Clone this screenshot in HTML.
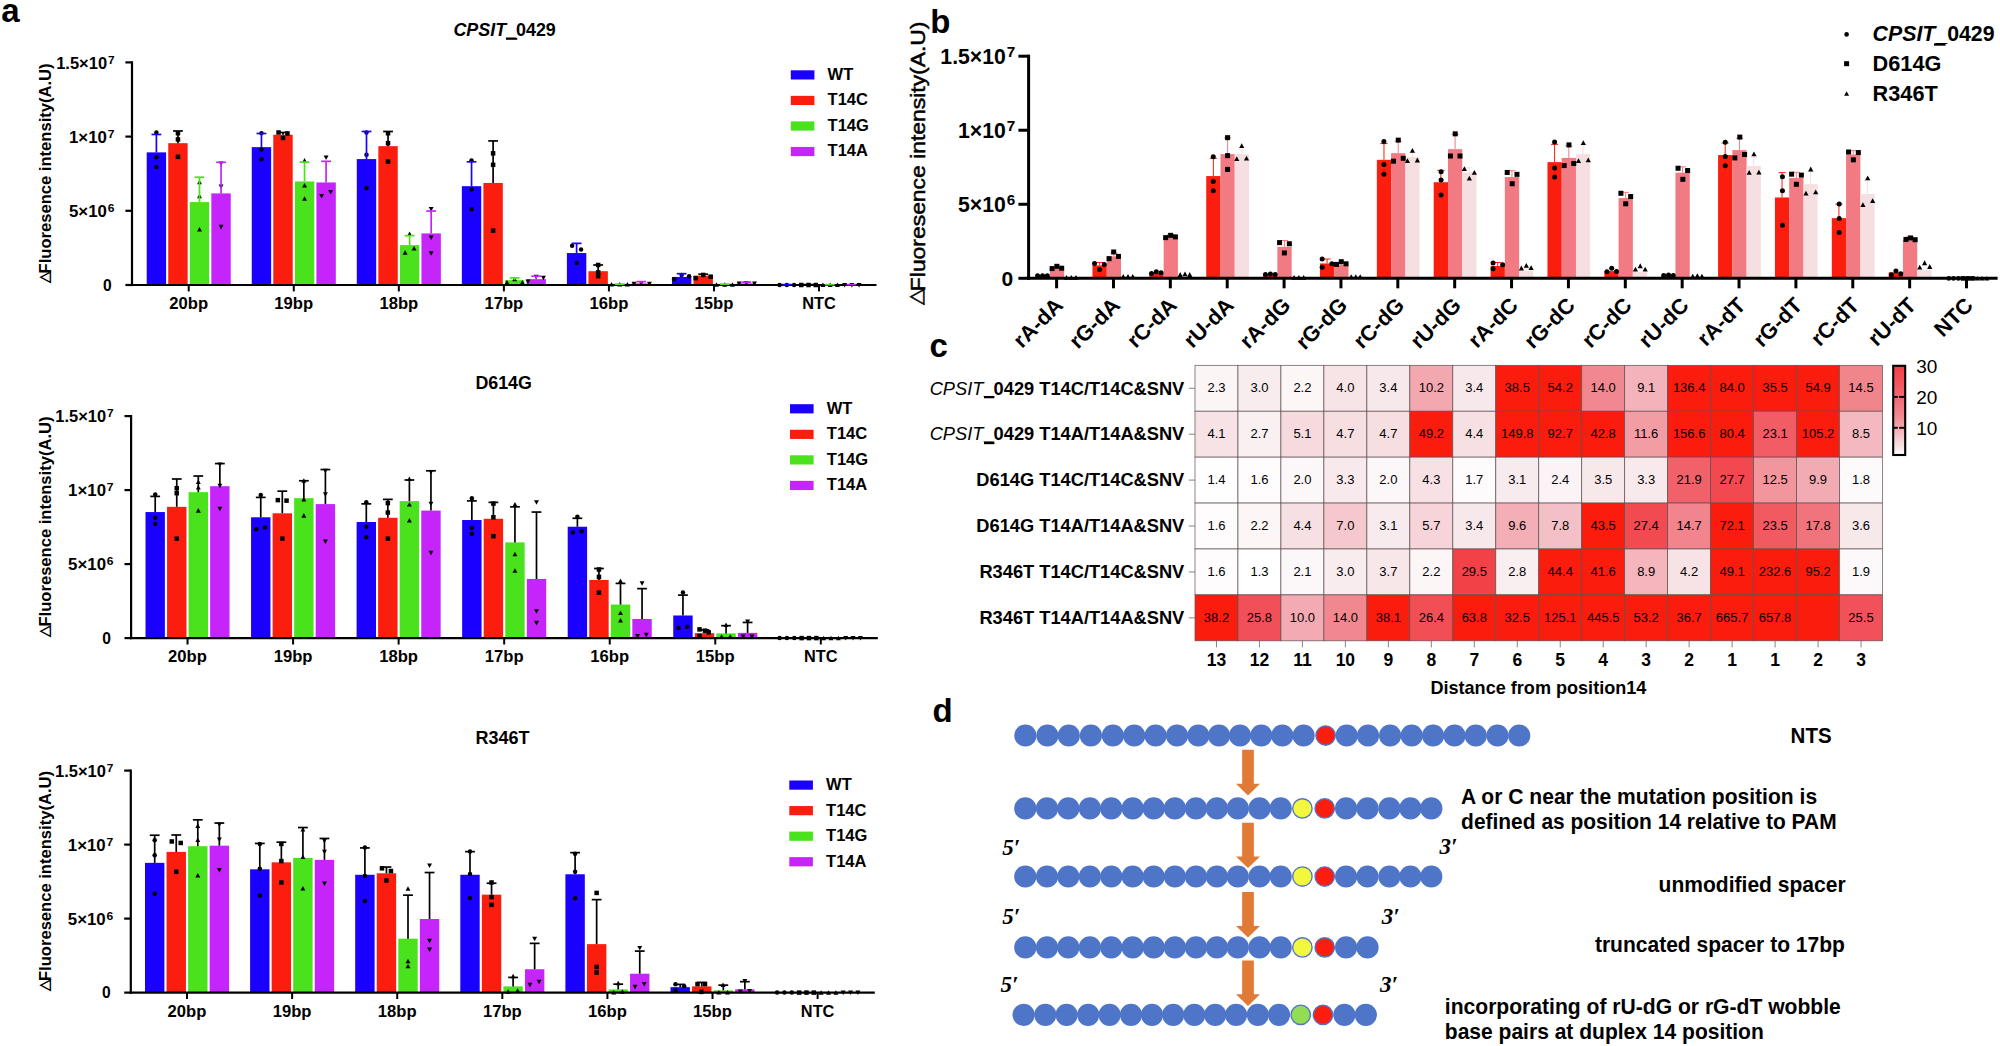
<!DOCTYPE html>
<html lang="en"><head><meta charset="utf-8"><title>Figure</title>
<style>html,body{margin:0;padding:0;background:#fff}svg{display:block}text{font-family:"Liberation Sans",Arial,Helvetica,sans-serif}</style>
</head><body>
<svg width="2000" height="1046" viewBox="0 0 2000 1046">
<rect x="0" y="0" width="2000" height="1046" fill="#fff"/>
<g id="panel-a">
<rect x="146.7" y="152.37" width="19.4" height="132.63" fill="#1a00ff"/>
<rect x="168.25" y="143.17" width="19.4" height="141.83" fill="#fb1d0d"/>
<rect x="189.8" y="202.09" width="19.4" height="82.91" fill="#49e21d"/>
<rect x="211.35" y="193.39" width="19.4" height="91.61" fill="#c524fb"/>
<rect x="251.75" y="147.15" width="19.4" height="137.85" fill="#1a00ff"/>
<rect x="273.3" y="134.72" width="19.4" height="150.28" fill="#fb1d0d"/>
<rect x="294.85" y="181.45" width="19.4" height="103.55" fill="#49e21d"/>
<rect x="316.4" y="182.45" width="19.4" height="102.55" fill="#c524fb"/>
<rect x="356.8" y="159.08" width="19.4" height="125.92" fill="#1a00ff"/>
<rect x="378.35" y="146.15" width="19.4" height="138.85" fill="#fb1d0d"/>
<rect x="399.9" y="245.1" width="19.4" height="39.9" fill="#49e21d"/>
<rect x="421.45" y="233.41" width="19.4" height="51.59" fill="#c524fb"/>
<rect x="461.85" y="186.18" width="19.4" height="98.82" fill="#1a00ff"/>
<rect x="483.4" y="182.95" width="19.4" height="102.05" fill="#fb1d0d"/>
<rect x="504.95" y="280.15" width="19.4" height="4.85" fill="#49e21d"/>
<rect x="526.5" y="279.15" width="19.4" height="5.85" fill="#c524fb"/>
<rect x="566.9" y="253.05" width="19.4" height="31.95" fill="#1a00ff"/>
<rect x="588.45" y="271.2" width="19.4" height="13.8" fill="#fb1d0d"/>
<rect x="610" y="283.88" width="19.4" height="1.12" fill="#49e21d"/>
<rect x="631.55" y="283.38" width="19.4" height="1.62" fill="#c524fb"/>
<rect x="671.95" y="276.92" width="19.4" height="8.08" fill="#1a00ff"/>
<rect x="693.5" y="275.67" width="19.4" height="9.33" fill="#fb1d0d"/>
<rect x="715.05" y="283.88" width="19.4" height="1.12" fill="#49e21d"/>
<rect x="736.6" y="283.38" width="19.4" height="1.62" fill="#c524fb"/>
<rect x="777" y="284.38" width="19.4" height="0.62" fill="#1a00ff"/>
<rect x="798.55" y="284.38" width="19.4" height="0.62" fill="#fb1d0d"/>
<rect x="820.1" y="284.38" width="19.4" height="0.62" fill="#49e21d"/>
<rect x="841.65" y="284.38" width="19.4" height="0.62" fill="#c524fb"/>
<line x1="132" y1="61.3" x2="132" y2="286.1" stroke="#000" stroke-width="2.2"/>
<line x1="130.9" y1="285" x2="876.5" y2="285" stroke="#000" stroke-width="2.2"/>
<circle cx="156.4" cy="132.48" r="2.25" fill="#000"/>
<circle cx="156.4" cy="157.34" r="2.25" fill="#000"/>
<circle cx="156.4" cy="167.04" r="2.25" fill="#000"/>
<rect x="175.7" y="130.98" width="4.5" height="4.5" fill="#000"/>
<rect x="175.7" y="137.19" width="4.5" height="4.5" fill="#000"/>
<rect x="175.7" y="154.59" width="4.5" height="4.5" fill="#000"/>
<path d="M199.5 179.75L201.95 184.28L197.05 184.28Z" fill="#000"/>
<path d="M199.5 193.67L201.95 198.2L197.05 198.2Z" fill="#000"/>
<path d="M199.5 226.98L201.95 231.52L197.05 231.52Z" fill="#000"/>
<path d="M221.05 166.01L223.5 161.47L218.6 161.47Z" fill="#000"/>
<path d="M221.05 189.12L223.5 184.59L218.6 184.59Z" fill="#000"/>
<path d="M221.05 229.4L223.5 224.87L218.6 224.87Z" fill="#000"/>
<circle cx="261.45" cy="133.23" r="2.25" fill="#000"/>
<circle cx="261.45" cy="149.38" r="2.25" fill="#000"/>
<circle cx="261.45" cy="159.33" r="2.25" fill="#000"/>
<rect x="276.28" y="130.23" width="4.5" height="4.5" fill="#000"/>
<rect x="285.22" y="131.22" width="4.5" height="4.5" fill="#000"/>
<rect x="280.75" y="135.7" width="4.5" height="4.5" fill="#000"/>
<path d="M304.55 158.12L307 162.65L302.1 162.65Z" fill="#000"/>
<path d="M304.55 182.98L307 187.51L302.1 187.51Z" fill="#000"/>
<path d="M304.55 196.16L307 200.69L302.1 200.69Z" fill="#000"/>
<path d="M326.1 160.04L328.55 155.51L323.65 155.51Z" fill="#000"/>
<path d="M321.63 198.57L324.08 194.04L319.18 194.04Z" fill="#000"/>
<path d="M330.57 194.59L333.02 190.06L328.12 190.06Z" fill="#000"/>
<circle cx="366.5" cy="132.48" r="2.25" fill="#000"/>
<circle cx="366.5" cy="154.85" r="2.25" fill="#000"/>
<circle cx="366.5" cy="188.17" r="2.25" fill="#000"/>
<rect x="385.8" y="130.98" width="4.5" height="4.5" fill="#000"/>
<rect x="385.8" y="140.92" width="4.5" height="4.5" fill="#000"/>
<rect x="385.8" y="159.32" width="4.5" height="4.5" fill="#000"/>
<path d="M409.6 231.46L412.05 235.99L407.15 235.99Z" fill="#000"/>
<path d="M405.13 250.1L407.58 254.64L402.68 254.64Z" fill="#000"/>
<path d="M414.07 245.88L416.52 250.41L411.62 250.41Z" fill="#000"/>
<path d="M431.15 211.5L433.6 206.97L428.7 206.97Z" fill="#000"/>
<path d="M431.15 240.09L433.6 235.56L428.7 235.56Z" fill="#000"/>
<path d="M431.15 255.75L433.6 251.22L428.7 251.22Z" fill="#000"/>
<circle cx="471.55" cy="160.57" r="2.25" fill="#000"/>
<circle cx="471.55" cy="189.41" r="2.25" fill="#000"/>
<circle cx="471.55" cy="209.3" r="2.25" fill="#000"/>
<rect x="490.85" y="151.11" width="4.5" height="4.5" fill="#000"/>
<rect x="490.85" y="162.55" width="4.5" height="4.5" fill="#000"/>
<rect x="490.85" y="228.43" width="4.5" height="4.5" fill="#000"/>
<path d="M506.94 279.94L509.39 284.47L504.49 284.47Z" fill="#000"/>
<path d="M514.65 276.7L517.1 281.24L512.2 281.24Z" fill="#000"/>
<path d="M522.36 279.94L524.81 284.47L519.91 284.47Z" fill="#000"/>
<path d="M528 284.09L530.45 279.56L525.55 279.56Z" fill="#000"/>
<path d="M536.2 279.37L538.65 274.83L533.75 274.83Z" fill="#000"/>
<path d="M543.41 280.36L545.86 275.83L540.96 275.83Z" fill="#000"/>
<circle cx="572.13" cy="245.84" r="2.25" fill="#000"/>
<circle cx="581.07" cy="249.57" r="2.25" fill="#000"/>
<circle cx="576.6" cy="263" r="2.25" fill="#000"/>
<rect x="595.9" y="262.73" width="4.5" height="4.5" fill="#000"/>
<rect x="595.9" y="270.19" width="4.5" height="4.5" fill="#000"/>
<rect x="595.9" y="273.92" width="4.5" height="4.5" fill="#000"/>
<path d="M611.5 281.93L613.95 286.46L609.05 286.46Z" fill="#000"/>
<path d="M619.7 281.93L622.15 286.46L617.25 286.46Z" fill="#000"/>
<path d="M627.41 281.93L629.86 286.46L624.96 286.46Z" fill="#000"/>
<path d="M634.04 286.33L636.49 281.8L631.59 281.8Z" fill="#000"/>
<path d="M641.25 285.58L643.7 281.05L638.8 281.05Z" fill="#000"/>
<path d="M649.45 286.33L651.9 281.8L647 281.8Z" fill="#000"/>
<circle cx="674.19" cy="279.15" r="2.25" fill="#000"/>
<circle cx="681.65" cy="274.93" r="2.25" fill="#000"/>
<circle cx="689.11" cy="276.17" r="2.25" fill="#000"/>
<rect x="693.49" y="275.91" width="4.5" height="4.5" fill="#000"/>
<rect x="700.95" y="272.68" width="4.5" height="4.5" fill="#000"/>
<rect x="708.41" y="274.42" width="4.5" height="4.5" fill="#000"/>
<path d="M716.55 282.17L719 286.71L714.1 286.71Z" fill="#000"/>
<path d="M724.75 282.17L727.2 286.71L722.3 286.71Z" fill="#000"/>
<path d="M732.46 282.17L734.91 286.71L730.01 286.71Z" fill="#000"/>
<path d="M739.09 286.08L741.54 281.55L736.64 281.55Z" fill="#000"/>
<path d="M746.3 285.58L748.75 281.05L743.85 281.05Z" fill="#000"/>
<path d="M754.5 286.08L756.95 281.55L752.05 281.55Z" fill="#000"/>
<circle cx="779.6" cy="285" r="2.25" fill="#000"/>
<circle cx="786.83" cy="285" r="2.25" fill="#000"/>
<circle cx="794.05" cy="285" r="2.25" fill="#000"/>
<rect x="799.03" y="282.75" width="4.5" height="4.5" fill="#000"/>
<rect x="806.26" y="282.75" width="4.5" height="4.5" fill="#000"/>
<rect x="813.49" y="282.75" width="4.5" height="4.5" fill="#000"/>
<path d="M822.96 282.55L825.41 287.08L820.51 287.08Z" fill="#000"/>
<path d="M830.19 282.55L832.64 287.08L827.74 287.08Z" fill="#000"/>
<path d="M837.42 282.55L839.87 287.08L834.97 287.08Z" fill="#000"/>
<path d="M844.65 287.45L847.1 282.92L842.2 282.92Z" fill="#000"/>
<path d="M851.87 287.45L854.32 282.92L849.42 282.92Z" fill="#000"/>
<path d="M859.1 287.45L861.55 282.92L856.65 282.92Z" fill="#000"/>
<line x1="156.4" y1="134.47" x2="156.4" y2="152.37" stroke="#1a00ff" stroke-width="1.7"/>
<line x1="151.5" y1="134.47" x2="161.3" y2="134.47" stroke="#1a00ff" stroke-width="1.7"/>
<line x1="177.95" y1="130.99" x2="177.95" y2="143.17" stroke="#000" stroke-width="1.7"/>
<line x1="173.05" y1="130.99" x2="182.85" y2="130.99" stroke="#000" stroke-width="1.7"/>
<line x1="199.5" y1="177.23" x2="199.5" y2="202.09" stroke="#49e21d" stroke-width="1.7"/>
<line x1="194.6" y1="177.23" x2="204.4" y2="177.23" stroke="#49e21d" stroke-width="1.7"/>
<line x1="221.05" y1="162.31" x2="221.05" y2="193.39" stroke="#c524fb" stroke-width="1.7"/>
<line x1="216.15" y1="162.31" x2="225.95" y2="162.31" stroke="#c524fb" stroke-width="1.7"/>
<line x1="261.45" y1="133.47" x2="261.45" y2="147.15" stroke="#1a00ff" stroke-width="1.7"/>
<line x1="256.55" y1="133.47" x2="266.35" y2="133.47" stroke="#1a00ff" stroke-width="1.7"/>
<line x1="283" y1="132.48" x2="283" y2="134.72" stroke="#000" stroke-width="1.7"/>
<line x1="278.1" y1="132.48" x2="287.9" y2="132.48" stroke="#000" stroke-width="1.7"/>
<line x1="304.55" y1="162.06" x2="304.55" y2="181.45" stroke="#49e21d" stroke-width="1.7"/>
<line x1="299.65" y1="162.06" x2="309.45" y2="162.06" stroke="#49e21d" stroke-width="1.7"/>
<line x1="326.1" y1="161.32" x2="326.1" y2="182.45" stroke="#c524fb" stroke-width="1.7"/>
<line x1="321.2" y1="161.32" x2="331" y2="161.32" stroke="#c524fb" stroke-width="1.7"/>
<line x1="366.5" y1="131.49" x2="366.5" y2="159.08" stroke="#1a00ff" stroke-width="1.7"/>
<line x1="361.6" y1="131.49" x2="371.4" y2="131.49" stroke="#1a00ff" stroke-width="1.7"/>
<line x1="388.05" y1="131.49" x2="388.05" y2="146.15" stroke="#000" stroke-width="1.7"/>
<line x1="383.15" y1="131.49" x2="392.95" y2="131.49" stroke="#000" stroke-width="1.7"/>
<line x1="409.6" y1="235.65" x2="409.6" y2="245.1" stroke="#49e21d" stroke-width="1.7"/>
<line x1="404.7" y1="235.65" x2="414.5" y2="235.65" stroke="#49e21d" stroke-width="1.7"/>
<line x1="431.15" y1="211.04" x2="431.15" y2="233.41" stroke="#c524fb" stroke-width="1.7"/>
<line x1="426.25" y1="211.04" x2="436.05" y2="211.04" stroke="#c524fb" stroke-width="1.7"/>
<line x1="471.55" y1="161.81" x2="471.55" y2="186.18" stroke="#1a00ff" stroke-width="1.7"/>
<line x1="466.65" y1="161.81" x2="476.45" y2="161.81" stroke="#1a00ff" stroke-width="1.7"/>
<line x1="493.1" y1="140.93" x2="493.1" y2="182.95" stroke="#000" stroke-width="1.7"/>
<line x1="488.2" y1="140.93" x2="498" y2="140.93" stroke="#000" stroke-width="1.7"/>
<line x1="514.65" y1="277.91" x2="514.65" y2="280.15" stroke="#49e21d" stroke-width="1.7"/>
<line x1="509.75" y1="277.91" x2="519.55" y2="277.91" stroke="#49e21d" stroke-width="1.7"/>
<line x1="536.2" y1="276.17" x2="536.2" y2="279.15" stroke="#c524fb" stroke-width="1.7"/>
<line x1="531.3" y1="276.17" x2="541.1" y2="276.17" stroke="#c524fb" stroke-width="1.7"/>
<line x1="576.6" y1="243.36" x2="576.6" y2="253.05" stroke="#1a00ff" stroke-width="1.7"/>
<line x1="571.7" y1="243.36" x2="581.5" y2="243.36" stroke="#1a00ff" stroke-width="1.7"/>
<line x1="598.15" y1="264.98" x2="598.15" y2="271.2" stroke="#000" stroke-width="1.7"/>
<line x1="593.25" y1="264.98" x2="603.05" y2="264.98" stroke="#000" stroke-width="1.7"/>
<line x1="614.8" y1="284.13" x2="624.6" y2="284.13" stroke="#49e21d" stroke-width="1.7"/>
<line x1="641.25" y1="281.64" x2="641.25" y2="283.38" stroke="#c524fb" stroke-width="1.7"/>
<line x1="636.35" y1="281.64" x2="646.15" y2="281.64" stroke="#c524fb" stroke-width="1.7"/>
<line x1="681.65" y1="273.69" x2="681.65" y2="276.92" stroke="#1a00ff" stroke-width="1.7"/>
<line x1="676.75" y1="273.69" x2="686.55" y2="273.69" stroke="#1a00ff" stroke-width="1.7"/>
<line x1="703.2" y1="274.18" x2="703.2" y2="275.67" stroke="#000" stroke-width="1.7"/>
<line x1="698.3" y1="274.18" x2="708.1" y2="274.18" stroke="#000" stroke-width="1.7"/>
<line x1="719.85" y1="284.13" x2="729.65" y2="284.13" stroke="#49e21d" stroke-width="1.7"/>
<line x1="746.3" y1="282.14" x2="746.3" y2="283.38" stroke="#c524fb" stroke-width="1.7"/>
<line x1="741.4" y1="282.14" x2="751.2" y2="282.14" stroke="#c524fb" stroke-width="1.7"/>
<line x1="781.8" y1="284.62" x2="791.6" y2="284.62" stroke="#1a00ff" stroke-width="1.7"/>
<line x1="803.35" y1="284.62" x2="813.15" y2="284.62" stroke="#000" stroke-width="1.7"/>
<line x1="824.9" y1="284.62" x2="834.7" y2="284.62" stroke="#49e21d" stroke-width="1.7"/>
<line x1="846.45" y1="284.62" x2="856.25" y2="284.62" stroke="#c524fb" stroke-width="1.7"/>
<line x1="125.4" y1="285" x2="132" y2="285" stroke="#000" stroke-width="2.2"/>
<text x="111.8" y="290.6" font-size="15.6" font-weight="bold" text-anchor="end">0</text>
<line x1="125.4" y1="210.8" x2="132" y2="210.8" stroke="#000" stroke-width="2.2"/>
<text x="114.5" y="216.9" font-size="15.6" font-weight="bold" text-anchor="end" textLength="45.5" lengthAdjust="spacingAndGlyphs">5×10<tspan font-size="11.23" dy="-4.84" dx="0.78">6</tspan></text>
<line x1="125.4" y1="136.6" x2="132" y2="136.6" stroke="#000" stroke-width="2.2"/>
<text x="114.5" y="142.7" font-size="15.6" font-weight="bold" text-anchor="end" textLength="45.5" lengthAdjust="spacingAndGlyphs">1×10<tspan font-size="11.23" dy="-4.84" dx="0.78">7</tspan></text>
<line x1="125.4" y1="62.4" x2="132" y2="62.4" stroke="#000" stroke-width="2.2"/>
<text x="114.5" y="68.5" font-size="15.6" font-weight="bold" text-anchor="end" textLength="58.3" lengthAdjust="spacingAndGlyphs">1.5×10<tspan font-size="11.23" dy="-4.84" dx="0.78">7</tspan></text>
<line x1="188.72" y1="285" x2="188.72" y2="291.4" stroke="#000" stroke-width="2"/>
<text x="188.72" y="308.9" font-size="15.6" font-weight="bold" text-anchor="middle" textLength="38.8" lengthAdjust="spacingAndGlyphs">20bp</text>
<line x1="293.78" y1="285" x2="293.78" y2="291.4" stroke="#000" stroke-width="2"/>
<text x="293.78" y="308.9" font-size="15.6" font-weight="bold" text-anchor="middle" textLength="38.8" lengthAdjust="spacingAndGlyphs">19bp</text>
<line x1="398.82" y1="285" x2="398.82" y2="291.4" stroke="#000" stroke-width="2"/>
<text x="398.82" y="308.9" font-size="15.6" font-weight="bold" text-anchor="middle" textLength="38.8" lengthAdjust="spacingAndGlyphs">18bp</text>
<line x1="503.88" y1="285" x2="503.88" y2="291.4" stroke="#000" stroke-width="2"/>
<text x="503.88" y="308.9" font-size="15.6" font-weight="bold" text-anchor="middle" textLength="38.8" lengthAdjust="spacingAndGlyphs">17bp</text>
<line x1="608.92" y1="285" x2="608.92" y2="291.4" stroke="#000" stroke-width="2"/>
<text x="608.92" y="308.9" font-size="15.6" font-weight="bold" text-anchor="middle" textLength="38.8" lengthAdjust="spacingAndGlyphs">16bp</text>
<line x1="713.98" y1="285" x2="713.98" y2="291.4" stroke="#000" stroke-width="2"/>
<text x="713.98" y="308.9" font-size="15.6" font-weight="bold" text-anchor="middle" textLength="38.8" lengthAdjust="spacingAndGlyphs">15bp</text>
<line x1="819.02" y1="285" x2="819.02" y2="291.4" stroke="#000" stroke-width="2"/>
<text x="819.02" y="308.9" font-size="15.6" font-weight="bold" text-anchor="middle" textLength="33.5" lengthAdjust="spacingAndGlyphs">NTC</text>
<text x="51.3" y="283.4" font-size="15.6" font-weight="bold" textLength="220" lengthAdjust="spacingAndGlyphs" transform="rotate(-90 51.3 283.4)"><tspan font-size="14.4" dy="-2.4">△</tspan><tspan dy="2.4" dx="-1.6">Fluoresence intensity(A.U)</tspan></text>
<rect x="790.8" y="70.3" width="23.6" height="9.2" fill="#1a00ff"/>
<text x="827.6" y="79.8" font-size="16.5" font-weight="bold">WT</text>
<rect x="790.8" y="95.85" width="23.6" height="9.2" fill="#fb1d0d"/>
<text x="827.6" y="105.35" font-size="16.5" font-weight="bold">T14C</text>
<rect x="790.8" y="121.4" width="23.6" height="9.2" fill="#49e21d"/>
<text x="827.6" y="130.9" font-size="16.5" font-weight="bold">T14G</text>
<rect x="790.8" y="146.95" width="23.6" height="9.2" fill="#c524fb"/>
<text x="827.6" y="156.45" font-size="16.5" font-weight="bold">T14A</text>
<text x="453.4" y="35.6" font-size="17.9" font-weight="bold" textLength="102.4" lengthAdjust="spacingAndGlyphs"><tspan font-style="italic">CPSIT</tspan>_0429</text>
<rect x="506" y="38" width="11.2" height="1.8" fill="#000"/>
<rect x="145.5" y="512.06" width="19.4" height="126.04" fill="#1a00ff"/>
<rect x="167.05" y="506.84" width="19.4" height="131.26" fill="#fb1d0d"/>
<rect x="188.6" y="492.18" width="19.4" height="145.92" fill="#49e21d"/>
<rect x="210.15" y="486.21" width="19.4" height="151.89" fill="#c524fb"/>
<rect x="251.05" y="517.28" width="19.4" height="120.82" fill="#1a00ff"/>
<rect x="272.6" y="513.31" width="19.4" height="124.79" fill="#fb1d0d"/>
<rect x="294.15" y="498.14" width="19.4" height="139.96" fill="#49e21d"/>
<rect x="315.7" y="504.11" width="19.4" height="133.99" fill="#c524fb"/>
<rect x="356.6" y="522.01" width="19.4" height="116.09" fill="#1a00ff"/>
<rect x="378.15" y="517.78" width="19.4" height="120.32" fill="#fb1d0d"/>
<rect x="399.7" y="501.12" width="19.4" height="136.98" fill="#49e21d"/>
<rect x="421.25" y="510.57" width="19.4" height="127.53" fill="#c524fb"/>
<rect x="462.15" y="520.02" width="19.4" height="118.08" fill="#1a00ff"/>
<rect x="483.7" y="518.78" width="19.4" height="119.32" fill="#fb1d0d"/>
<rect x="505.25" y="542.39" width="19.4" height="95.71" fill="#49e21d"/>
<rect x="526.8" y="578.94" width="19.4" height="59.16" fill="#c524fb"/>
<rect x="567.7" y="526.73" width="19.4" height="111.37" fill="#1a00ff"/>
<rect x="589.25" y="579.93" width="19.4" height="58.17" fill="#fb1d0d"/>
<rect x="610.8" y="604.54" width="19.4" height="33.56" fill="#49e21d"/>
<rect x="632.35" y="618.96" width="19.4" height="19.14" fill="#c524fb"/>
<rect x="673.25" y="615.48" width="19.4" height="22.62" fill="#1a00ff"/>
<rect x="694.8" y="633.13" width="19.4" height="4.97" fill="#fb1d0d"/>
<rect x="716.35" y="633.38" width="19.4" height="4.72" fill="#49e21d"/>
<rect x="737.9" y="632.88" width="19.4" height="5.22" fill="#c524fb"/>
<rect x="778.8" y="637.61" width="19.4" height="0.49" fill="#1a00ff"/>
<rect x="800.35" y="637.61" width="19.4" height="0.49" fill="#fb1d0d"/>
<rect x="821.9" y="637.61" width="19.4" height="0.49" fill="#49e21d"/>
<rect x="843.45" y="637.61" width="19.4" height="0.49" fill="#c524fb"/>
<line x1="131.1" y1="415" x2="131.1" y2="639.2" stroke="#000" stroke-width="2.2"/>
<line x1="130" y1="638.1" x2="877.8" y2="638.1" stroke="#000" stroke-width="2.2"/>
<circle cx="155.2" cy="494.41" r="2.25" fill="#000"/>
<circle cx="155.2" cy="517.78" r="2.25" fill="#000"/>
<circle cx="155.2" cy="523.75" r="2.25" fill="#000"/>
<rect x="174.5" y="485.95" width="4.5" height="4.5" fill="#000"/>
<rect x="174.5" y="490.92" width="4.5" height="4.5" fill="#000"/>
<rect x="174.5" y="536.41" width="4.5" height="4.5" fill="#000"/>
<path d="M198.3 479.53L200.75 484.07L195.85 484.07Z" fill="#000"/>
<path d="M198.3 485L200.75 489.53L195.85 489.53Z" fill="#000"/>
<path d="M198.3 508.12L200.75 512.65L195.85 512.65Z" fill="#000"/>
<path d="M219.85 467.03L222.3 462.5L217.4 462.5Z" fill="#000"/>
<path d="M219.85 488.16L222.3 483.63L217.4 483.63Z" fill="#000"/>
<path d="M219.85 511.28L222.3 506.75L217.4 506.75Z" fill="#000"/>
<circle cx="260.75" cy="494.91" r="2.25" fill="#000"/>
<circle cx="256.28" cy="529.22" r="2.25" fill="#000"/>
<circle cx="264.98" cy="527.48" r="2.25" fill="#000"/>
<rect x="275.58" y="497.88" width="4.5" height="4.5" fill="#000"/>
<rect x="284.28" y="498.38" width="4.5" height="4.5" fill="#000"/>
<rect x="280.05" y="536.41" width="4.5" height="4.5" fill="#000"/>
<path d="M303.85 478.29L306.3 482.82L301.4 482.82Z" fill="#000"/>
<path d="M303.85 496.93L306.3 501.47L301.4 501.47Z" fill="#000"/>
<path d="M303.85 513.09L306.3 517.63L301.4 517.63Z" fill="#000"/>
<path d="M325.4 473.25L327.85 468.71L322.95 468.71Z" fill="#000"/>
<path d="M325.4 496.86L327.85 492.33L322.95 492.33Z" fill="#000"/>
<path d="M325.4 544.1L327.85 539.56L322.95 539.56Z" fill="#000"/>
<circle cx="366.3" cy="502.37" r="2.25" fill="#000"/>
<circle cx="366.3" cy="526.48" r="2.25" fill="#000"/>
<circle cx="366.3" cy="537.17" r="2.25" fill="#000"/>
<rect x="385.6" y="500.86" width="4.5" height="4.5" fill="#000"/>
<rect x="385.6" y="510.31" width="4.5" height="4.5" fill="#000"/>
<rect x="385.6" y="536.41" width="4.5" height="4.5" fill="#000"/>
<path d="M409.4 476.55L411.85 481.08L406.95 481.08Z" fill="#000"/>
<path d="M409.4 501.91L411.85 506.44L406.95 506.44Z" fill="#000"/>
<path d="M409.4 518.07L411.85 522.6L406.95 522.6Z" fill="#000"/>
<path d="M430.95 474.49L433.4 469.96L428.5 469.96Z" fill="#000"/>
<path d="M430.95 506.31L433.4 501.78L428.5 501.78Z" fill="#000"/>
<path d="M430.95 555.28L433.4 550.75L428.5 550.75Z" fill="#000"/>
<circle cx="471.85" cy="498.14" r="2.25" fill="#000"/>
<circle cx="471.85" cy="527.97" r="2.25" fill="#000"/>
<circle cx="471.85" cy="533.69" r="2.25" fill="#000"/>
<rect x="491.15" y="501.36" width="4.5" height="4.5" fill="#000"/>
<rect x="491.15" y="515.03" width="4.5" height="4.5" fill="#000"/>
<rect x="491.15" y="533.93" width="4.5" height="4.5" fill="#000"/>
<path d="M514.95 501.91L517.4 506.44L512.5 506.44Z" fill="#000"/>
<path d="M514.95 551.63L517.4 556.16L512.5 556.16Z" fill="#000"/>
<path d="M514.95 568.28L517.4 572.82L512.5 572.82Z" fill="#000"/>
<path d="M536.5 504.82L538.95 500.29L534.05 500.29Z" fill="#000"/>
<path d="M536.5 613.71L538.95 609.17L534.05 609.17Z" fill="#000"/>
<path d="M536.5 625.39L538.95 620.86L534.05 620.86Z" fill="#000"/>
<circle cx="577.4" cy="516.79" r="2.25" fill="#000"/>
<circle cx="572.93" cy="532.45" r="2.25" fill="#000"/>
<circle cx="581.63" cy="531.21" r="2.25" fill="#000"/>
<rect x="596.7" y="567.24" width="4.5" height="4.5" fill="#000"/>
<rect x="596.7" y="574.7" width="4.5" height="4.5" fill="#000"/>
<rect x="596.7" y="590.36" width="4.5" height="4.5" fill="#000"/>
<path d="M620.5 578.48L622.95 583.01L618.05 583.01Z" fill="#000"/>
<path d="M620.5 610.55L622.95 615.08L618.05 615.08Z" fill="#000"/>
<path d="M620.5 618L622.95 622.54L618.05 622.54Z" fill="#000"/>
<path d="M642.05 585.86L644.5 581.33L639.6 581.33Z" fill="#000"/>
<path d="M637.58 638.57L640.03 634.03L635.13 634.03Z" fill="#000"/>
<path d="M646.28 637.32L648.73 632.79L643.83 632.79Z" fill="#000"/>
<circle cx="682.95" cy="592.61" r="2.25" fill="#000"/>
<circle cx="678.48" cy="627.91" r="2.25" fill="#000"/>
<circle cx="687.18" cy="626.67" r="2.25" fill="#000"/>
<rect x="697.28" y="627.15" width="4.5" height="4.5" fill="#000"/>
<rect x="702.75" y="628.4" width="4.5" height="4.5" fill="#000"/>
<rect x="706.48" y="630.14" width="4.5" height="4.5" fill="#000"/>
<rect x="697.28" y="633.87" width="4.5" height="4.5" fill="#000"/>
<path d="M726.05 622.48L728.5 627.01L723.6 627.01Z" fill="#000"/>
<path d="M721.58 634.16L724.03 638.7L719.13 638.7Z" fill="#000"/>
<path d="M730.28 634.16L732.73 638.7L727.83 638.7Z" fill="#000"/>
<path d="M747.6 624.15L750.05 619.61L745.15 619.61Z" fill="#000"/>
<path d="M743.13 639.06L745.58 634.53L740.68 634.53Z" fill="#000"/>
<path d="M751.83 639.06L754.28 634.53L749.38 634.53Z" fill="#000"/>
<circle cx="779.6" cy="638.1" r="2.25" fill="#000"/>
<circle cx="786.95" cy="638.1" r="2.25" fill="#000"/>
<circle cx="794.29" cy="638.1" r="2.25" fill="#000"/>
<rect x="799.39" y="635.85" width="4.5" height="4.5" fill="#000"/>
<rect x="806.73" y="635.85" width="4.5" height="4.5" fill="#000"/>
<rect x="814.08" y="635.85" width="4.5" height="4.5" fill="#000"/>
<path d="M823.67 635.65L826.12 640.18L821.22 640.18Z" fill="#000"/>
<path d="M831.02 635.65L833.47 640.18L828.57 640.18Z" fill="#000"/>
<path d="M838.36 635.65L840.81 640.18L835.91 640.18Z" fill="#000"/>
<path d="M845.71 640.55L848.16 636.02L843.26 636.02Z" fill="#000"/>
<path d="M853.05 640.55L855.5 636.02L850.6 636.02Z" fill="#000"/>
<path d="M860.4 640.55L862.85 636.02L857.95 636.02Z" fill="#000"/>
<line x1="155.2" y1="496.4" x2="155.2" y2="512.06" stroke="#000" stroke-width="1.7"/>
<line x1="150.3" y1="496.4" x2="160.1" y2="496.4" stroke="#000" stroke-width="1.7"/>
<line x1="176.75" y1="479" x2="176.75" y2="506.84" stroke="#000" stroke-width="1.7"/>
<line x1="171.85" y1="479" x2="181.65" y2="479" stroke="#000" stroke-width="1.7"/>
<line x1="198.3" y1="476.02" x2="198.3" y2="492.18" stroke="#000" stroke-width="1.7"/>
<line x1="193.4" y1="476.02" x2="203.2" y2="476.02" stroke="#000" stroke-width="1.7"/>
<line x1="219.85" y1="463.59" x2="219.85" y2="486.21" stroke="#000" stroke-width="1.7"/>
<line x1="214.95" y1="463.59" x2="224.75" y2="463.59" stroke="#000" stroke-width="1.7"/>
<line x1="260.75" y1="497.4" x2="260.75" y2="517.28" stroke="#000" stroke-width="1.7"/>
<line x1="255.85" y1="497.4" x2="265.65" y2="497.4" stroke="#000" stroke-width="1.7"/>
<line x1="282.3" y1="491.18" x2="282.3" y2="513.31" stroke="#000" stroke-width="1.7"/>
<line x1="277.4" y1="491.18" x2="287.2" y2="491.18" stroke="#000" stroke-width="1.7"/>
<line x1="303.85" y1="480.74" x2="303.85" y2="498.14" stroke="#000" stroke-width="1.7"/>
<line x1="298.95" y1="480.74" x2="308.75" y2="480.74" stroke="#000" stroke-width="1.7"/>
<line x1="325.4" y1="469.55" x2="325.4" y2="504.11" stroke="#000" stroke-width="1.7"/>
<line x1="320.5" y1="469.55" x2="330.3" y2="469.55" stroke="#000" stroke-width="1.7"/>
<line x1="366.3" y1="503.86" x2="366.3" y2="522.01" stroke="#000" stroke-width="1.7"/>
<line x1="361.4" y1="503.86" x2="371.2" y2="503.86" stroke="#000" stroke-width="1.7"/>
<line x1="387.85" y1="499.38" x2="387.85" y2="517.78" stroke="#000" stroke-width="1.7"/>
<line x1="382.95" y1="499.38" x2="392.75" y2="499.38" stroke="#000" stroke-width="1.7"/>
<line x1="409.4" y1="479.99" x2="409.4" y2="501.12" stroke="#000" stroke-width="1.7"/>
<line x1="404.5" y1="479.99" x2="414.3" y2="479.99" stroke="#000" stroke-width="1.7"/>
<line x1="430.95" y1="470.8" x2="430.95" y2="510.57" stroke="#000" stroke-width="1.7"/>
<line x1="426.05" y1="470.8" x2="435.85" y2="470.8" stroke="#000" stroke-width="1.7"/>
<line x1="471.85" y1="500.88" x2="471.85" y2="520.02" stroke="#000" stroke-width="1.7"/>
<line x1="466.95" y1="500.88" x2="476.75" y2="500.88" stroke="#000" stroke-width="1.7"/>
<line x1="493.4" y1="502.37" x2="493.4" y2="518.78" stroke="#000" stroke-width="1.7"/>
<line x1="488.5" y1="502.37" x2="498.3" y2="502.37" stroke="#000" stroke-width="1.7"/>
<line x1="514.95" y1="506.84" x2="514.95" y2="542.39" stroke="#000" stroke-width="1.7"/>
<line x1="510.05" y1="506.84" x2="519.85" y2="506.84" stroke="#000" stroke-width="1.7"/>
<line x1="536.5" y1="512.06" x2="536.5" y2="578.94" stroke="#000" stroke-width="1.7"/>
<line x1="531.6" y1="512.06" x2="541.4" y2="512.06" stroke="#000" stroke-width="1.7"/>
<line x1="577.4" y1="518.28" x2="577.4" y2="526.73" stroke="#000" stroke-width="1.7"/>
<line x1="572.5" y1="518.28" x2="582.3" y2="518.28" stroke="#000" stroke-width="1.7"/>
<line x1="598.95" y1="568.5" x2="598.95" y2="579.93" stroke="#000" stroke-width="1.7"/>
<line x1="594.05" y1="568.5" x2="603.85" y2="568.5" stroke="#000" stroke-width="1.7"/>
<line x1="620.5" y1="583.41" x2="620.5" y2="604.54" stroke="#000" stroke-width="1.7"/>
<line x1="615.6" y1="583.41" x2="625.4" y2="583.41" stroke="#000" stroke-width="1.7"/>
<line x1="642.05" y1="588.63" x2="642.05" y2="618.96" stroke="#000" stroke-width="1.7"/>
<line x1="637.15" y1="588.63" x2="646.95" y2="588.63" stroke="#000" stroke-width="1.7"/>
<line x1="682.95" y1="595.1" x2="682.95" y2="615.48" stroke="#000" stroke-width="1.7"/>
<line x1="678.05" y1="595.1" x2="687.85" y2="595.1" stroke="#000" stroke-width="1.7"/>
<line x1="704.5" y1="629.9" x2="704.5" y2="633.13" stroke="#000" stroke-width="1.7"/>
<line x1="699.6" y1="629.9" x2="709.4" y2="629.9" stroke="#000" stroke-width="1.7"/>
<line x1="726.05" y1="625.67" x2="726.05" y2="633.38" stroke="#000" stroke-width="1.7"/>
<line x1="721.15" y1="625.67" x2="730.95" y2="625.67" stroke="#000" stroke-width="1.7"/>
<line x1="747.6" y1="622.44" x2="747.6" y2="632.88" stroke="#000" stroke-width="1.7"/>
<line x1="742.7" y1="622.44" x2="752.5" y2="622.44" stroke="#000" stroke-width="1.7"/>
<line x1="124.5" y1="638.1" x2="131.1" y2="638.1" stroke="#000" stroke-width="2.2"/>
<text x="110.9" y="643.7" font-size="15.6" font-weight="bold" text-anchor="end">0</text>
<line x1="124.5" y1="564.1" x2="131.1" y2="564.1" stroke="#000" stroke-width="2.2"/>
<text x="113.6" y="570.2" font-size="15.6" font-weight="bold" text-anchor="end" textLength="45.5" lengthAdjust="spacingAndGlyphs">5×10<tspan font-size="11.23" dy="-4.84" dx="0.78">6</tspan></text>
<line x1="124.5" y1="490.1" x2="131.1" y2="490.1" stroke="#000" stroke-width="2.2"/>
<text x="113.6" y="496.2" font-size="15.6" font-weight="bold" text-anchor="end" textLength="45.5" lengthAdjust="spacingAndGlyphs">1×10<tspan font-size="11.23" dy="-4.84" dx="0.78">7</tspan></text>
<line x1="124.5" y1="416.1" x2="131.1" y2="416.1" stroke="#000" stroke-width="2.2"/>
<text x="113.6" y="422.2" font-size="15.6" font-weight="bold" text-anchor="end" textLength="58.3" lengthAdjust="spacingAndGlyphs">1.5×10<tspan font-size="11.23" dy="-4.84" dx="0.78">7</tspan></text>
<line x1="187.53" y1="638.1" x2="187.53" y2="644.5" stroke="#000" stroke-width="2"/>
<text x="187.53" y="662" font-size="15.6" font-weight="bold" text-anchor="middle" textLength="38.8" lengthAdjust="spacingAndGlyphs">20bp</text>
<line x1="293.08" y1="638.1" x2="293.08" y2="644.5" stroke="#000" stroke-width="2"/>
<text x="293.08" y="662" font-size="15.6" font-weight="bold" text-anchor="middle" textLength="38.8" lengthAdjust="spacingAndGlyphs">19bp</text>
<line x1="398.63" y1="638.1" x2="398.63" y2="644.5" stroke="#000" stroke-width="2"/>
<text x="398.63" y="662" font-size="15.6" font-weight="bold" text-anchor="middle" textLength="38.8" lengthAdjust="spacingAndGlyphs">18bp</text>
<line x1="504.18" y1="638.1" x2="504.18" y2="644.5" stroke="#000" stroke-width="2"/>
<text x="504.18" y="662" font-size="15.6" font-weight="bold" text-anchor="middle" textLength="38.8" lengthAdjust="spacingAndGlyphs">17bp</text>
<line x1="609.73" y1="638.1" x2="609.73" y2="644.5" stroke="#000" stroke-width="2"/>
<text x="609.73" y="662" font-size="15.6" font-weight="bold" text-anchor="middle" textLength="38.8" lengthAdjust="spacingAndGlyphs">16bp</text>
<line x1="715.27" y1="638.1" x2="715.27" y2="644.5" stroke="#000" stroke-width="2"/>
<text x="715.27" y="662" font-size="15.6" font-weight="bold" text-anchor="middle" textLength="38.8" lengthAdjust="spacingAndGlyphs">15bp</text>
<line x1="820.82" y1="638.1" x2="820.82" y2="644.5" stroke="#000" stroke-width="2"/>
<text x="820.82" y="662" font-size="15.6" font-weight="bold" text-anchor="middle" textLength="33.5" lengthAdjust="spacingAndGlyphs">NTC</text>
<text x="51.3" y="636.5" font-size="15.6" font-weight="bold" textLength="220" lengthAdjust="spacingAndGlyphs" transform="rotate(-90 51.3 636.5)"><tspan font-size="14.4" dy="-2.4">△</tspan><tspan dy="2.4" dx="-1.6">Fluoresence intensity(A.U)</tspan></text>
<rect x="790" y="404.2" width="23.6" height="9.2" fill="#1a00ff"/>
<text x="826.8" y="413.7" font-size="16.5" font-weight="bold">WT</text>
<rect x="790" y="429.75" width="23.6" height="9.2" fill="#fb1d0d"/>
<text x="826.8" y="439.25" font-size="16.5" font-weight="bold">T14C</text>
<rect x="790" y="455.3" width="23.6" height="9.2" fill="#49e21d"/>
<text x="826.8" y="464.8" font-size="16.5" font-weight="bold">T14G</text>
<rect x="790" y="480.85" width="23.6" height="9.2" fill="#c524fb"/>
<text x="826.8" y="490.35" font-size="16.5" font-weight="bold">T14A</text>
<text x="475.4" y="389.4" font-size="17.9" font-weight="bold" textLength="56.5" lengthAdjust="spacingAndGlyphs">D614G</text>
<rect x="145" y="862.84" width="19.4" height="129.76" fill="#1a00ff"/>
<rect x="166.55" y="851.9" width="19.4" height="140.7" fill="#fb1d0d"/>
<rect x="188.1" y="846.18" width="19.4" height="146.42" fill="#49e21d"/>
<rect x="209.65" y="845.68" width="19.4" height="146.92" fill="#c524fb"/>
<rect x="250.1" y="869.3" width="19.4" height="123.3" fill="#1a00ff"/>
<rect x="271.65" y="862.34" width="19.4" height="130.26" fill="#fb1d0d"/>
<rect x="293.2" y="857.87" width="19.4" height="134.73" fill="#49e21d"/>
<rect x="314.75" y="859.85" width="19.4" height="132.75" fill="#c524fb"/>
<rect x="355.2" y="874.77" width="19.4" height="117.83" fill="#1a00ff"/>
<rect x="376.75" y="873.28" width="19.4" height="119.32" fill="#fb1d0d"/>
<rect x="398.3" y="938.66" width="19.4" height="53.94" fill="#49e21d"/>
<rect x="419.85" y="919.02" width="19.4" height="73.58" fill="#c524fb"/>
<rect x="460.3" y="874.77" width="19.4" height="117.83" fill="#1a00ff"/>
<rect x="481.85" y="894.66" width="19.4" height="97.94" fill="#fb1d0d"/>
<rect x="503.4" y="986.39" width="19.4" height="6.21" fill="#49e21d"/>
<rect x="524.95" y="969.24" width="19.4" height="23.36" fill="#c524fb"/>
<rect x="565.4" y="874.27" width="19.4" height="118.33" fill="#1a00ff"/>
<rect x="586.95" y="944.13" width="19.4" height="48.47" fill="#fb1d0d"/>
<rect x="608.5" y="989.38" width="19.4" height="3.22" fill="#49e21d"/>
<rect x="630.05" y="973.71" width="19.4" height="18.89" fill="#c524fb"/>
<rect x="670.5" y="987.14" width="19.4" height="5.46" fill="#1a00ff"/>
<rect x="692.05" y="986.39" width="19.4" height="6.21" fill="#fb1d0d"/>
<rect x="713.6" y="990.37" width="19.4" height="2.23" fill="#49e21d"/>
<rect x="735.15" y="989.38" width="19.4" height="3.22" fill="#c524fb"/>
<rect x="775.6" y="992.36" width="19.4" height="0.24" fill="#1a00ff"/>
<rect x="797.15" y="992.36" width="19.4" height="0.24" fill="#fb1d0d"/>
<rect x="818.7" y="992.36" width="19.4" height="0.24" fill="#49e21d"/>
<rect x="840.25" y="992.36" width="19.4" height="0.24" fill="#c524fb"/>
<line x1="130.8" y1="769.5" x2="130.8" y2="993.7" stroke="#000" stroke-width="2.2"/>
<line x1="129.7" y1="992.6" x2="874.8" y2="992.6" stroke="#000" stroke-width="2.2"/>
<circle cx="154.7" cy="840.21" r="2.25" fill="#000"/>
<circle cx="154.7" cy="855.13" r="2.25" fill="#000"/>
<circle cx="154.7" cy="893.66" r="2.25" fill="#000"/>
<rect x="169.53" y="839.21" width="4.5" height="4.5" fill="#000"/>
<rect x="178.47" y="840.7" width="4.5" height="4.5" fill="#000"/>
<rect x="174" y="869.54" width="4.5" height="4.5" fill="#000"/>
<path d="M197.8 823.35L200.25 827.88L195.35 827.88Z" fill="#000"/>
<path d="M197.8 837.52L200.25 842.05L195.35 842.05Z" fill="#000"/>
<path d="M197.8 873.07L200.25 877.6L195.35 877.6Z" fill="#000"/>
<path d="M219.35 827L221.8 822.47L216.9 822.47Z" fill="#000"/>
<path d="M219.35 841.92L221.8 837.39L216.9 837.39Z" fill="#000"/>
<path d="M219.35 872.5L221.8 867.96L216.9 867.96Z" fill="#000"/>
<circle cx="259.8" cy="843.94" r="2.25" fill="#000"/>
<circle cx="259.8" cy="868.8" r="2.25" fill="#000"/>
<circle cx="259.8" cy="895.4" r="2.25" fill="#000"/>
<rect x="279.1" y="841.69" width="4.5" height="4.5" fill="#000"/>
<rect x="279.1" y="858.85" width="4.5" height="4.5" fill="#000"/>
<rect x="279.1" y="880.23" width="4.5" height="4.5" fill="#000"/>
<path d="M302.9 827.07L305.35 831.61L300.45 831.61Z" fill="#000"/>
<path d="M302.9 854.42L305.35 858.95L300.45 858.95Z" fill="#000"/>
<path d="M302.9 885.99L305.35 890.53L300.45 890.53Z" fill="#000"/>
<path d="M324.45 843.16L326.9 838.63L322 838.63Z" fill="#000"/>
<path d="M324.45 854.35L326.9 849.82L322 849.82Z" fill="#000"/>
<path d="M324.45 885.92L326.9 881.39L322 881.39Z" fill="#000"/>
<circle cx="364.9" cy="847.42" r="2.25" fill="#000"/>
<circle cx="364.9" cy="876.01" r="2.25" fill="#000"/>
<circle cx="364.9" cy="901.12" r="2.25" fill="#000"/>
<rect x="379.73" y="866.06" width="4.5" height="4.5" fill="#000"/>
<rect x="388.67" y="868.79" width="4.5" height="4.5" fill="#000"/>
<rect x="384.2" y="878.24" width="4.5" height="4.5" fill="#000"/>
<path d="M408 886.24L410.45 890.77L405.55 890.77Z" fill="#000"/>
<path d="M408 958.83L410.45 963.37L405.55 963.37Z" fill="#000"/>
<path d="M408 963.81L410.45 968.34L405.55 968.34Z" fill="#000"/>
<path d="M429.55 868.02L432 863.49L427.1 863.49Z" fill="#000"/>
<path d="M429.55 943.35L432 938.82L427.1 938.82Z" fill="#000"/>
<path d="M429.55 952.05L432 947.52L427.1 947.52Z" fill="#000"/>
<circle cx="470" cy="851.4" r="2.25" fill="#000"/>
<circle cx="470" cy="874.02" r="2.25" fill="#000"/>
<circle cx="470" cy="897.89" r="2.25" fill="#000"/>
<rect x="489.3" y="880.23" width="4.5" height="4.5" fill="#000"/>
<rect x="489.3" y="894.89" width="4.5" height="4.5" fill="#000"/>
<rect x="489.3" y="902.6" width="4.5" height="4.5" fill="#000"/>
<path d="M513.1 973.75L515.55 978.28L510.65 978.28Z" fill="#000"/>
<path d="M508.13 989.16L510.58 993.7L505.68 993.7Z" fill="#000"/>
<path d="M517.57 988.17L520.02 992.7L515.12 992.7Z" fill="#000"/>
<path d="M534.65 941.36L537.1 936.83L532.2 936.83Z" fill="#000"/>
<path d="M529.93 987.35L532.38 982.82L527.48 982.82Z" fill="#000"/>
<path d="M539.12 984.37L541.57 979.83L536.67 979.83Z" fill="#000"/>
<circle cx="575.1" cy="853.64" r="2.25" fill="#000"/>
<circle cx="575.1" cy="871.79" r="2.25" fill="#000"/>
<circle cx="575.1" cy="898.14" r="2.25" fill="#000"/>
<rect x="594.4" y="890.67" width="4.5" height="4.5" fill="#000"/>
<rect x="594.4" y="964.75" width="4.5" height="4.5" fill="#000"/>
<rect x="594.4" y="970.22" width="4.5" height="4.5" fill="#000"/>
<path d="M618.2 980.71L620.65 985.24L615.75 985.24Z" fill="#000"/>
<path d="M613.73 989.91L616.18 994.44L611.28 994.44Z" fill="#000"/>
<path d="M622.43 989.16L624.88 993.7L619.98 993.7Z" fill="#000"/>
<path d="M639.75 950.56L642.2 946.03L637.3 946.03Z" fill="#000"/>
<path d="M635.03 989.34L637.48 984.81L632.58 984.81Z" fill="#000"/>
<path d="M644.22 986.6L646.67 982.07L641.77 982.07Z" fill="#000"/>
<circle cx="675.48" cy="984.15" r="2.25" fill="#000"/>
<circle cx="684.18" cy="986.14" r="2.25" fill="#000"/>
<circle cx="675.48" cy="990.62" r="2.25" fill="#000"/>
<rect x="695.27" y="981.9" width="4.5" height="4.5" fill="#000"/>
<rect x="702.73" y="981.9" width="4.5" height="4.5" fill="#000"/>
<rect x="699" y="989.61" width="4.5" height="4.5" fill="#000"/>
<path d="M723.05 982.45L725.5 986.98L720.6 986.98Z" fill="#000"/>
<path d="M718.83 989.91L721.28 994.44L716.38 994.44Z" fill="#000"/>
<path d="M727.53 989.91L729.98 994.44L725.08 994.44Z" fill="#000"/>
<path d="M744.85 983.62L747.3 979.09L742.4 979.09Z" fill="#000"/>
<path d="M740.38 994.06L742.83 989.53L737.93 989.53Z" fill="#000"/>
<path d="M749.57 993.57L752.02 989.03L747.12 989.03Z" fill="#000"/>
<circle cx="777.1" cy="992.6" r="2.25" fill="#000"/>
<circle cx="784.45" cy="992.6" r="2.25" fill="#000"/>
<circle cx="791.79" cy="992.6" r="2.25" fill="#000"/>
<rect x="796.89" y="990.35" width="4.5" height="4.5" fill="#000"/>
<rect x="804.23" y="990.35" width="4.5" height="4.5" fill="#000"/>
<rect x="811.58" y="990.35" width="4.5" height="4.5" fill="#000"/>
<path d="M821.17 990.15L823.62 994.68L818.72 994.68Z" fill="#000"/>
<path d="M828.52 990.15L830.97 994.68L826.07 994.68Z" fill="#000"/>
<path d="M835.86 990.15L838.31 994.68L833.41 994.68Z" fill="#000"/>
<path d="M843.21 995.05L845.66 990.52L840.76 990.52Z" fill="#000"/>
<path d="M850.55 995.05L853 990.52L848.1 990.52Z" fill="#000"/>
<path d="M857.9 995.05L860.35 990.52L855.45 990.52Z" fill="#000"/>
<line x1="154.7" y1="835.24" x2="154.7" y2="862.84" stroke="#000" stroke-width="1.7"/>
<line x1="149.8" y1="835.24" x2="159.6" y2="835.24" stroke="#000" stroke-width="1.7"/>
<line x1="176.25" y1="834.99" x2="176.25" y2="851.9" stroke="#000" stroke-width="1.7"/>
<line x1="171.35" y1="834.99" x2="181.15" y2="834.99" stroke="#000" stroke-width="1.7"/>
<line x1="197.8" y1="819.83" x2="197.8" y2="846.18" stroke="#000" stroke-width="1.7"/>
<line x1="192.9" y1="819.83" x2="202.7" y2="819.83" stroke="#000" stroke-width="1.7"/>
<line x1="219.35" y1="823.06" x2="219.35" y2="845.68" stroke="#000" stroke-width="1.7"/>
<line x1="214.45" y1="823.06" x2="224.25" y2="823.06" stroke="#000" stroke-width="1.7"/>
<line x1="259.8" y1="843.45" x2="259.8" y2="869.3" stroke="#000" stroke-width="1.7"/>
<line x1="254.9" y1="843.45" x2="264.7" y2="843.45" stroke="#000" stroke-width="1.7"/>
<line x1="281.35" y1="842.2" x2="281.35" y2="862.34" stroke="#000" stroke-width="1.7"/>
<line x1="276.45" y1="842.2" x2="286.25" y2="842.2" stroke="#000" stroke-width="1.7"/>
<line x1="302.9" y1="827.54" x2="302.9" y2="857.87" stroke="#000" stroke-width="1.7"/>
<line x1="298" y1="827.54" x2="307.8" y2="827.54" stroke="#000" stroke-width="1.7"/>
<line x1="324.45" y1="838.47" x2="324.45" y2="859.85" stroke="#000" stroke-width="1.7"/>
<line x1="319.55" y1="838.47" x2="329.35" y2="838.47" stroke="#000" stroke-width="1.7"/>
<line x1="364.9" y1="847.92" x2="364.9" y2="874.77" stroke="#000" stroke-width="1.7"/>
<line x1="360" y1="847.92" x2="369.8" y2="847.92" stroke="#000" stroke-width="1.7"/>
<line x1="386.45" y1="867.06" x2="386.45" y2="873.28" stroke="#000" stroke-width="1.7"/>
<line x1="381.55" y1="867.06" x2="391.35" y2="867.06" stroke="#000" stroke-width="1.7"/>
<line x1="408" y1="895.16" x2="408" y2="938.66" stroke="#000" stroke-width="1.7"/>
<line x1="403.1" y1="895.16" x2="412.9" y2="895.16" stroke="#000" stroke-width="1.7"/>
<line x1="429.55" y1="872.53" x2="429.55" y2="919.02" stroke="#000" stroke-width="1.7"/>
<line x1="424.65" y1="872.53" x2="434.45" y2="872.53" stroke="#000" stroke-width="1.7"/>
<line x1="470" y1="851.65" x2="470" y2="874.77" stroke="#000" stroke-width="1.7"/>
<line x1="465.1" y1="851.65" x2="474.9" y2="851.65" stroke="#000" stroke-width="1.7"/>
<line x1="491.55" y1="883.22" x2="491.55" y2="894.66" stroke="#000" stroke-width="1.7"/>
<line x1="486.65" y1="883.22" x2="496.45" y2="883.22" stroke="#000" stroke-width="1.7"/>
<line x1="513.1" y1="977.44" x2="513.1" y2="986.39" stroke="#000" stroke-width="1.7"/>
<line x1="508.2" y1="977.44" x2="518" y2="977.44" stroke="#000" stroke-width="1.7"/>
<line x1="534.65" y1="943.38" x2="534.65" y2="969.24" stroke="#000" stroke-width="1.7"/>
<line x1="529.75" y1="943.38" x2="539.55" y2="943.38" stroke="#000" stroke-width="1.7"/>
<line x1="575.1" y1="852.64" x2="575.1" y2="874.27" stroke="#000" stroke-width="1.7"/>
<line x1="570.2" y1="852.64" x2="580" y2="852.64" stroke="#000" stroke-width="1.7"/>
<line x1="596.65" y1="899.63" x2="596.65" y2="944.13" stroke="#000" stroke-width="1.7"/>
<line x1="591.75" y1="899.63" x2="601.55" y2="899.63" stroke="#000" stroke-width="1.7"/>
<line x1="618.2" y1="984.15" x2="618.2" y2="989.38" stroke="#000" stroke-width="1.7"/>
<line x1="613.3" y1="984.15" x2="623.1" y2="984.15" stroke="#000" stroke-width="1.7"/>
<line x1="639.75" y1="951.09" x2="639.75" y2="973.71" stroke="#000" stroke-width="1.7"/>
<line x1="634.85" y1="951.09" x2="644.65" y2="951.09" stroke="#000" stroke-width="1.7"/>
<line x1="680.2" y1="984.4" x2="680.2" y2="987.14" stroke="#000" stroke-width="1.7"/>
<line x1="675.3" y1="984.4" x2="685.1" y2="984.4" stroke="#000" stroke-width="1.7"/>
<line x1="701.75" y1="982.41" x2="701.75" y2="986.39" stroke="#000" stroke-width="1.7"/>
<line x1="696.85" y1="982.41" x2="706.65" y2="982.41" stroke="#000" stroke-width="1.7"/>
<line x1="723.3" y1="985.15" x2="723.3" y2="990.37" stroke="#000" stroke-width="1.7"/>
<line x1="718.4" y1="985.15" x2="728.2" y2="985.15" stroke="#000" stroke-width="1.7"/>
<line x1="744.85" y1="981.67" x2="744.85" y2="989.38" stroke="#000" stroke-width="1.7"/>
<line x1="739.95" y1="981.67" x2="749.75" y2="981.67" stroke="#000" stroke-width="1.7"/>
<line x1="124.2" y1="992.6" x2="130.8" y2="992.6" stroke="#000" stroke-width="2.2"/>
<text x="110.6" y="998.2" font-size="15.6" font-weight="bold" text-anchor="end">0</text>
<line x1="124.2" y1="918.6" x2="130.8" y2="918.6" stroke="#000" stroke-width="2.2"/>
<text x="113.3" y="924.7" font-size="15.6" font-weight="bold" text-anchor="end" textLength="45.5" lengthAdjust="spacingAndGlyphs">5×10<tspan font-size="11.23" dy="-4.84" dx="0.78">6</tspan></text>
<line x1="124.2" y1="844.6" x2="130.8" y2="844.6" stroke="#000" stroke-width="2.2"/>
<text x="113.3" y="850.7" font-size="15.6" font-weight="bold" text-anchor="end" textLength="45.5" lengthAdjust="spacingAndGlyphs">1×10<tspan font-size="11.23" dy="-4.84" dx="0.78">7</tspan></text>
<line x1="124.2" y1="770.6" x2="130.8" y2="770.6" stroke="#000" stroke-width="2.2"/>
<text x="113.3" y="776.7" font-size="15.6" font-weight="bold" text-anchor="end" textLength="58.3" lengthAdjust="spacingAndGlyphs">1.5×10<tspan font-size="11.23" dy="-4.84" dx="0.78">7</tspan></text>
<line x1="187.03" y1="992.6" x2="187.03" y2="999" stroke="#000" stroke-width="2"/>
<text x="187.03" y="1016.5" font-size="15.6" font-weight="bold" text-anchor="middle" textLength="38.8" lengthAdjust="spacingAndGlyphs">20bp</text>
<line x1="292.12" y1="992.6" x2="292.12" y2="999" stroke="#000" stroke-width="2"/>
<text x="292.12" y="1016.5" font-size="15.6" font-weight="bold" text-anchor="middle" textLength="38.8" lengthAdjust="spacingAndGlyphs">19bp</text>
<line x1="397.23" y1="992.6" x2="397.23" y2="999" stroke="#000" stroke-width="2"/>
<text x="397.23" y="1016.5" font-size="15.6" font-weight="bold" text-anchor="middle" textLength="38.8" lengthAdjust="spacingAndGlyphs">18bp</text>
<line x1="502.32" y1="992.6" x2="502.32" y2="999" stroke="#000" stroke-width="2"/>
<text x="502.32" y="1016.5" font-size="15.6" font-weight="bold" text-anchor="middle" textLength="38.8" lengthAdjust="spacingAndGlyphs">17bp</text>
<line x1="607.42" y1="992.6" x2="607.42" y2="999" stroke="#000" stroke-width="2"/>
<text x="607.42" y="1016.5" font-size="15.6" font-weight="bold" text-anchor="middle" textLength="38.8" lengthAdjust="spacingAndGlyphs">16bp</text>
<line x1="712.52" y1="992.6" x2="712.52" y2="999" stroke="#000" stroke-width="2"/>
<text x="712.52" y="1016.5" font-size="15.6" font-weight="bold" text-anchor="middle" textLength="38.8" lengthAdjust="spacingAndGlyphs">15bp</text>
<line x1="817.62" y1="992.6" x2="817.62" y2="999" stroke="#000" stroke-width="2"/>
<text x="817.62" y="1016.5" font-size="15.6" font-weight="bold" text-anchor="middle" textLength="33.5" lengthAdjust="spacingAndGlyphs">NTC</text>
<text x="51.3" y="991" font-size="15.6" font-weight="bold" textLength="220" lengthAdjust="spacingAndGlyphs" transform="rotate(-90 51.3 991)"><tspan font-size="14.4" dy="-2.4">△</tspan><tspan dy="2.4" dx="-1.6">Fluoresence intensity(A.U)</tspan></text>
<rect x="789.3" y="780.5" width="23.6" height="9.2" fill="#1a00ff"/>
<text x="826.1" y="790" font-size="16.5" font-weight="bold">WT</text>
<rect x="789.3" y="806.05" width="23.6" height="9.2" fill="#fb1d0d"/>
<text x="826.1" y="815.55" font-size="16.5" font-weight="bold">T14C</text>
<rect x="789.3" y="831.6" width="23.6" height="9.2" fill="#49e21d"/>
<text x="826.1" y="841.1" font-size="16.5" font-weight="bold">T14G</text>
<rect x="789.3" y="857.15" width="23.6" height="9.2" fill="#c524fb"/>
<text x="826.1" y="866.65" font-size="16.5" font-weight="bold">T14A</text>
<text x="475.5" y="743.6" font-size="17.9" font-weight="bold" textLength="54" lengthAdjust="spacingAndGlyphs">R346T</text>
<text x="1.2" y="22.2" font-size="33" font-weight="bold" textLength="18.4" lengthAdjust="spacingAndGlyphs">a</text>
</g>
<g id="panel-b">
<rect x="1035.62" y="276.25" width="14.3" height="2.05" fill="#fb1d0d"/>
<rect x="1049.88" y="268.22" width="14.3" height="10.08" fill="#f27b83"/>
<rect x="1064.12" y="277.01" width="14.25" height="1.29" fill="#f6dfe1"/>
<rect x="1092.49" y="265.35" width="14.3" height="12.95" fill="#fb1d0d"/>
<rect x="1106.74" y="256.37" width="14.3" height="21.93" fill="#f27b83"/>
<rect x="1120.99" y="276.63" width="14.25" height="1.67" fill="#f6dfe1"/>
<rect x="1149.37" y="273" width="14.3" height="5.3" fill="#fb1d0d"/>
<rect x="1163.62" y="236.68" width="14.3" height="41.62" fill="#f27b83"/>
<rect x="1177.87" y="275.48" width="14.25" height="2.82" fill="#f6dfe1"/>
<rect x="1206.23" y="176.08" width="14.3" height="102.22" fill="#fb1d0d"/>
<rect x="1220.48" y="154.1" width="14.3" height="124.2" fill="#f27b83"/>
<rect x="1234.73" y="154.1" width="14.25" height="124.2" fill="#f6dfe1"/>
<rect x="1263.11" y="275.1" width="14.3" height="3.2" fill="#fb1d0d"/>
<rect x="1277.36" y="246.81" width="14.3" height="31.49" fill="#f27b83"/>
<rect x="1291.61" y="277.01" width="14.25" height="1.29" fill="#f6dfe1"/>
<rect x="1319.97" y="263.44" width="14.3" height="14.86" fill="#fb1d0d"/>
<rect x="1334.22" y="264.78" width="14.3" height="13.52" fill="#f27b83"/>
<rect x="1348.47" y="276.82" width="14.25" height="1.48" fill="#f6dfe1"/>
<rect x="1376.85" y="159.83" width="14.3" height="118.47" fill="#fb1d0d"/>
<rect x="1391.1" y="153.14" width="14.3" height="125.16" fill="#f27b83"/>
<rect x="1405.35" y="156.97" width="14.25" height="121.33" fill="#f6dfe1"/>
<rect x="1433.71" y="182.2" width="14.3" height="96.1" fill="#fb1d0d"/>
<rect x="1447.96" y="149.13" width="14.3" height="129.17" fill="#f27b83"/>
<rect x="1462.21" y="172.64" width="14.25" height="105.66" fill="#f6dfe1"/>
<rect x="1490.59" y="265.93" width="14.3" height="12.37" fill="#fb1d0d"/>
<rect x="1504.84" y="177.04" width="14.3" height="101.26" fill="#f27b83"/>
<rect x="1519.09" y="270.7" width="14.25" height="7.6" fill="#f6dfe1"/>
<rect x="1547.45" y="162.13" width="14.3" height="116.17" fill="#fb1d0d"/>
<rect x="1561.7" y="157.92" width="14.3" height="120.38" fill="#f27b83"/>
<rect x="1575.95" y="154.1" width="14.25" height="124.2" fill="#f6dfe1"/>
<rect x="1604.32" y="271.09" width="14.3" height="7.21" fill="#fb1d0d"/>
<rect x="1618.57" y="198.06" width="14.3" height="80.24" fill="#f27b83"/>
<rect x="1632.82" y="272.04" width="14.25" height="6.26" fill="#f6dfe1"/>
<rect x="1661.19" y="276.06" width="14.3" height="2.24" fill="#fb1d0d"/>
<rect x="1675.44" y="172.64" width="14.3" height="105.66" fill="#f27b83"/>
<rect x="1689.69" y="276.44" width="14.25" height="1.86" fill="#f6dfe1"/>
<rect x="1718.07" y="155.05" width="14.3" height="123.25" fill="#fb1d0d"/>
<rect x="1732.32" y="150.08" width="14.3" height="128.22" fill="#f27b83"/>
<rect x="1746.57" y="165.95" width="14.25" height="112.35" fill="#f6dfe1"/>
<rect x="1774.93" y="197.49" width="14.3" height="80.81" fill="#fb1d0d"/>
<rect x="1789.18" y="177.99" width="14.3" height="100.31" fill="#f27b83"/>
<rect x="1803.43" y="184.11" width="14.25" height="94.19" fill="#f6dfe1"/>
<rect x="1831.8" y="218.14" width="14.3" height="60.16" fill="#fb1d0d"/>
<rect x="1846.05" y="154.48" width="14.3" height="123.82" fill="#f27b83"/>
<rect x="1860.3" y="194.05" width="14.25" height="84.25" fill="#f6dfe1"/>
<rect x="1888.67" y="272.4" width="14.3" height="5.9" fill="#fb1d0d"/>
<rect x="1902.92" y="240.29" width="14.3" height="38.01" fill="#f27b83"/>
<rect x="1917.17" y="269.82" width="14.25" height="8.48" fill="#f6dfe1"/>
<line x1="1057" y1="266.31" x2="1057" y2="268.22" stroke="#f27b83" stroke-width="1"/>
<line x1="1053.4" y1="266.31" x2="1060.6" y2="266.31" stroke="#f27b83" stroke-width="1"/>
<line x1="1099.62" y1="262.49" x2="1099.62" y2="265.35" stroke="#fb1d0d" stroke-width="1"/>
<line x1="1096.02" y1="262.49" x2="1103.22" y2="262.49" stroke="#fb1d0d" stroke-width="1"/>
<line x1="1113.87" y1="252.93" x2="1113.87" y2="256.37" stroke="#f27b83" stroke-width="1"/>
<line x1="1110.27" y1="252.93" x2="1117.47" y2="252.93" stroke="#f27b83" stroke-width="1"/>
<line x1="1170.74" y1="234.77" x2="1170.74" y2="236.68" stroke="#f27b83" stroke-width="1"/>
<line x1="1167.14" y1="234.77" x2="1174.34" y2="234.77" stroke="#f27b83" stroke-width="1"/>
<line x1="1213.36" y1="158.3" x2="1213.36" y2="176.08" stroke="#fb1d0d" stroke-width="1"/>
<line x1="1209.76" y1="158.3" x2="1216.96" y2="158.3" stroke="#fb1d0d" stroke-width="1"/>
<line x1="1227.61" y1="137.85" x2="1227.61" y2="154.1" stroke="#f27b83" stroke-width="1"/>
<line x1="1224.01" y1="137.85" x2="1231.21" y2="137.85" stroke="#f27b83" stroke-width="1"/>
<line x1="1241.86" y1="150.08" x2="1241.86" y2="154.1" stroke="#f6dfe1" stroke-width="1"/>
<line x1="1238.26" y1="150.08" x2="1245.46" y2="150.08" stroke="#f6dfe1" stroke-width="1"/>
<line x1="1284.48" y1="240.5" x2="1284.48" y2="246.81" stroke="#f27b83" stroke-width="1"/>
<line x1="1280.88" y1="240.5" x2="1288.08" y2="240.5" stroke="#f27b83" stroke-width="1"/>
<line x1="1327.1" y1="259.04" x2="1327.1" y2="263.44" stroke="#fb1d0d" stroke-width="1"/>
<line x1="1323.5" y1="259.04" x2="1330.7" y2="259.04" stroke="#fb1d0d" stroke-width="1"/>
<line x1="1341.35" y1="262.49" x2="1341.35" y2="264.78" stroke="#f27b83" stroke-width="1"/>
<line x1="1337.75" y1="262.49" x2="1344.95" y2="262.49" stroke="#f27b83" stroke-width="1"/>
<line x1="1383.97" y1="143.58" x2="1383.97" y2="159.83" stroke="#fb1d0d" stroke-width="1"/>
<line x1="1380.37" y1="143.58" x2="1387.57" y2="143.58" stroke="#fb1d0d" stroke-width="1"/>
<line x1="1398.22" y1="141.1" x2="1398.22" y2="153.14" stroke="#f27b83" stroke-width="1"/>
<line x1="1394.62" y1="141.1" x2="1401.82" y2="141.1" stroke="#f27b83" stroke-width="1"/>
<line x1="1412.47" y1="152.57" x2="1412.47" y2="156.97" stroke="#f6dfe1" stroke-width="1"/>
<line x1="1408.87" y1="152.57" x2="1416.07" y2="152.57" stroke="#f6dfe1" stroke-width="1"/>
<line x1="1440.84" y1="170.35" x2="1440.84" y2="182.2" stroke="#fb1d0d" stroke-width="1"/>
<line x1="1437.24" y1="170.35" x2="1444.44" y2="170.35" stroke="#fb1d0d" stroke-width="1"/>
<line x1="1455.09" y1="134.41" x2="1455.09" y2="149.13" stroke="#f27b83" stroke-width="1"/>
<line x1="1451.49" y1="134.41" x2="1458.69" y2="134.41" stroke="#f27b83" stroke-width="1"/>
<line x1="1469.34" y1="167.86" x2="1469.34" y2="172.64" stroke="#f6dfe1" stroke-width="1"/>
<line x1="1465.74" y1="167.86" x2="1472.94" y2="167.86" stroke="#f6dfe1" stroke-width="1"/>
<line x1="1497.71" y1="262.49" x2="1497.71" y2="265.93" stroke="#fb1d0d" stroke-width="1"/>
<line x1="1494.11" y1="262.49" x2="1501.31" y2="262.49" stroke="#fb1d0d" stroke-width="1"/>
<line x1="1511.96" y1="170.73" x2="1511.96" y2="177.04" stroke="#f27b83" stroke-width="1"/>
<line x1="1508.36" y1="170.73" x2="1515.56" y2="170.73" stroke="#f27b83" stroke-width="1"/>
<line x1="1526.21" y1="268.22" x2="1526.21" y2="270.7" stroke="#f6dfe1" stroke-width="1"/>
<line x1="1522.61" y1="268.22" x2="1529.81" y2="268.22" stroke="#f6dfe1" stroke-width="1"/>
<line x1="1554.58" y1="144.35" x2="1554.58" y2="162.13" stroke="#fb1d0d" stroke-width="1"/>
<line x1="1550.98" y1="144.35" x2="1558.18" y2="144.35" stroke="#fb1d0d" stroke-width="1"/>
<line x1="1568.83" y1="145.88" x2="1568.83" y2="157.92" stroke="#f27b83" stroke-width="1"/>
<line x1="1565.23" y1="145.88" x2="1572.43" y2="145.88" stroke="#f27b83" stroke-width="1"/>
<line x1="1583.08" y1="144.92" x2="1583.08" y2="154.1" stroke="#f6dfe1" stroke-width="1"/>
<line x1="1579.48" y1="144.92" x2="1586.68" y2="144.92" stroke="#f6dfe1" stroke-width="1"/>
<line x1="1625.7" y1="192.33" x2="1625.7" y2="198.06" stroke="#f27b83" stroke-width="1"/>
<line x1="1622.1" y1="192.33" x2="1629.3" y2="192.33" stroke="#f27b83" stroke-width="1"/>
<line x1="1682.57" y1="166.91" x2="1682.57" y2="172.64" stroke="#f27b83" stroke-width="1"/>
<line x1="1678.97" y1="166.91" x2="1686.17" y2="166.91" stroke="#f27b83" stroke-width="1"/>
<line x1="1725.19" y1="143.01" x2="1725.19" y2="155.05" stroke="#fb1d0d" stroke-width="1"/>
<line x1="1721.59" y1="143.01" x2="1728.79" y2="143.01" stroke="#fb1d0d" stroke-width="1"/>
<line x1="1739.44" y1="138.23" x2="1739.44" y2="150.08" stroke="#f27b83" stroke-width="1"/>
<line x1="1735.84" y1="138.23" x2="1743.04" y2="138.23" stroke="#f27b83" stroke-width="1"/>
<line x1="1753.69" y1="157.35" x2="1753.69" y2="165.95" stroke="#f6dfe1" stroke-width="1"/>
<line x1="1750.09" y1="157.35" x2="1757.29" y2="157.35" stroke="#f6dfe1" stroke-width="1"/>
<line x1="1782.06" y1="172.64" x2="1782.06" y2="197.49" stroke="#fb1d0d" stroke-width="1"/>
<line x1="1778.46" y1="172.64" x2="1785.66" y2="172.64" stroke="#fb1d0d" stroke-width="1"/>
<line x1="1796.31" y1="172.26" x2="1796.31" y2="177.99" stroke="#f27b83" stroke-width="1"/>
<line x1="1792.71" y1="172.26" x2="1799.91" y2="172.26" stroke="#f27b83" stroke-width="1"/>
<line x1="1810.56" y1="171.11" x2="1810.56" y2="184.11" stroke="#f6dfe1" stroke-width="1"/>
<line x1="1806.96" y1="171.11" x2="1814.16" y2="171.11" stroke="#f6dfe1" stroke-width="1"/>
<line x1="1838.93" y1="204.18" x2="1838.93" y2="218.14" stroke="#fb1d0d" stroke-width="1"/>
<line x1="1835.33" y1="204.18" x2="1842.53" y2="204.18" stroke="#fb1d0d" stroke-width="1"/>
<line x1="1853.18" y1="150.66" x2="1853.18" y2="154.48" stroke="#f27b83" stroke-width="1"/>
<line x1="1849.58" y1="150.66" x2="1856.78" y2="150.66" stroke="#f27b83" stroke-width="1"/>
<line x1="1867.43" y1="180.29" x2="1867.43" y2="194.05" stroke="#f6dfe1" stroke-width="1"/>
<line x1="1863.83" y1="180.29" x2="1871.03" y2="180.29" stroke="#f6dfe1" stroke-width="1"/>
<line x1="1910.05" y1="236.27" x2="1910.05" y2="240.29" stroke="#f27b83" stroke-width="1"/>
<line x1="1906.45" y1="236.27" x2="1913.65" y2="236.27" stroke="#f27b83" stroke-width="1"/>
<line x1="1028.6" y1="54.7" x2="1028.6" y2="279.7" stroke="#000" stroke-width="3"/>
<line x1="1027.1" y1="278.3" x2="1997.6" y2="278.3" stroke="#000" stroke-width="3"/>
<circle cx="1037.59" cy="275.87" r="2.5" fill="#000"/>
<circle cx="1042.56" cy="275.87" r="2.5" fill="#000"/>
<circle cx="1047.34" cy="275.87" r="2.5" fill="#000"/>
<rect x="1049.61" y="266.1" width="5" height="5" fill="#000"/>
<rect x="1054.39" y="263.81" width="5" height="5" fill="#000"/>
<rect x="1059.17" y="265.72" width="5" height="5" fill="#000"/>
<path d="M1066.45 274.99L1069.05 279.8L1063.85 279.8Z" fill="#000"/>
<path d="M1071.23 274.99L1073.83 279.8L1068.63 279.8Z" fill="#000"/>
<path d="M1076.01 274.99L1078.61 279.8L1073.41 279.8Z" fill="#000"/>
<circle cx="1094.55" cy="263.44" r="2.5" fill="#000"/>
<circle cx="1099.52" cy="269.56" r="2.5" fill="#000"/>
<circle cx="1104.3" cy="264.4" r="2.5" fill="#000"/>
<rect x="1106.58" y="256.16" width="5" height="5" fill="#000"/>
<rect x="1111.17" y="249.47" width="5" height="5" fill="#000"/>
<rect x="1115.95" y="253.87" width="5" height="5" fill="#000"/>
<path d="M1123.23 274.03L1125.83 278.84L1120.63 278.84Z" fill="#000"/>
<path d="M1128 274.03L1130.6 278.84L1125.4 278.84Z" fill="#000"/>
<path d="M1132.78 274.03L1135.38 278.84L1130.18 278.84Z" fill="#000"/>
<circle cx="1151.52" cy="273.38" r="2.5" fill="#000"/>
<circle cx="1156.3" cy="271.85" r="2.5" fill="#000"/>
<circle cx="1161.08" cy="272.81" r="2.5" fill="#000"/>
<rect x="1163.16" y="235.13" width="5" height="5" fill="#000"/>
<rect x="1168.13" y="232.84" width="5" height="5" fill="#000"/>
<rect x="1172.91" y="234.37" width="5" height="5" fill="#000"/>
<path d="M1180.19 272.12L1182.79 276.93L1177.59 276.93Z" fill="#000"/>
<path d="M1184.97 271.55L1187.57 276.36L1182.37 276.36Z" fill="#000"/>
<path d="M1189.75 272.12L1192.35 276.93L1187.15 276.93Z" fill="#000"/>
<circle cx="1213.26" cy="156.77" r="2.5" fill="#000"/>
<circle cx="1213.26" cy="181.62" r="2.5" fill="#000"/>
<circle cx="1213.26" cy="190.8" r="2.5" fill="#000"/>
<rect x="1225.1" y="135.16" width="5" height="5" fill="#000"/>
<rect x="1225.1" y="153.13" width="5" height="5" fill="#000"/>
<rect x="1225.1" y="166.89" width="5" height="5" fill="#000"/>
<path d="M1241.74 143.28L1244.34 148.09L1239.14 148.09Z" fill="#000"/>
<path d="M1236.77 156.28L1239.37 161.09L1234.17 161.09Z" fill="#000"/>
<path d="M1246.52 155.7L1249.12 160.51L1243.92 160.51Z" fill="#000"/>
<circle cx="1265.45" cy="274.53" r="2.5" fill="#000"/>
<circle cx="1270.42" cy="273.95" r="2.5" fill="#000"/>
<circle cx="1275.2" cy="274.53" r="2.5" fill="#000"/>
<rect x="1277.09" y="240.1" width="5" height="5" fill="#000"/>
<rect x="1281.87" y="250.43" width="5" height="5" fill="#000"/>
<rect x="1286.84" y="241.25" width="5" height="5" fill="#000"/>
<path d="M1294.12 274.99L1296.72 279.8L1291.52 279.8Z" fill="#000"/>
<path d="M1298.9 274.99L1301.5 279.8L1296.3 279.8Z" fill="#000"/>
<path d="M1303.68 274.99L1306.28 279.8L1301.08 279.8Z" fill="#000"/>
<circle cx="1322.17" cy="259.04" r="2.5" fill="#000"/>
<circle cx="1322.17" cy="267.26" r="2.5" fill="#000"/>
<circle cx="1331.92" cy="263.63" r="2.5" fill="#000"/>
<rect x="1334.01" y="261.9" width="5" height="5" fill="#000"/>
<rect x="1338.79" y="259.22" width="5" height="5" fill="#000"/>
<rect x="1343.57" y="261.32" width="5" height="5" fill="#000"/>
<path d="M1351.23 274.22L1353.83 279.03L1348.63 279.03Z" fill="#000"/>
<path d="M1355.82 274.22L1358.42 279.03L1353.22 279.03Z" fill="#000"/>
<path d="M1360.22 274.22L1362.82 279.03L1357.62 279.03Z" fill="#000"/>
<circle cx="1383.92" cy="141.48" r="2.5" fill="#000"/>
<circle cx="1383.92" cy="164.61" r="2.5" fill="#000"/>
<circle cx="1383.92" cy="174.17" r="2.5" fill="#000"/>
<rect x="1395.76" y="137.64" width="5" height="5" fill="#000"/>
<rect x="1390.98" y="158.67" width="5" height="5" fill="#000"/>
<rect x="1400.73" y="155.8" width="5" height="5" fill="#000"/>
<path d="M1412.4 148.06L1415 152.87L1409.8 152.87Z" fill="#000"/>
<path d="M1407.43 158.19L1410.03 163L1404.83 163Z" fill="#000"/>
<path d="M1417.37 157.62L1419.97 162.43L1414.77 162.43Z" fill="#000"/>
<circle cx="1441.08" cy="171.68" r="2.5" fill="#000"/>
<circle cx="1441.08" cy="180.1" r="2.5" fill="#000"/>
<circle cx="1441.08" cy="195.01" r="2.5" fill="#000"/>
<rect x="1452.72" y="131.34" width="5" height="5" fill="#000"/>
<rect x="1447.94" y="153.51" width="5" height="5" fill="#000"/>
<rect x="1457.5" y="153.51" width="5" height="5" fill="#000"/>
<path d="M1464.4 166.22L1467 171.03L1461.8 171.03Z" fill="#000"/>
<path d="M1474.34 170.04L1476.94 174.85L1471.74 174.85Z" fill="#000"/>
<path d="M1469.37 175.78L1471.97 180.59L1466.77 180.59Z" fill="#000"/>
<circle cx="1493.07" cy="263.06" r="2.5" fill="#000"/>
<circle cx="1493.07" cy="268.79" r="2.5" fill="#000"/>
<circle cx="1502.63" cy="264.78" r="2.5" fill="#000"/>
<rect x="1504.72" y="169.95" width="5" height="5" fill="#000"/>
<rect x="1514.47" y="171.86" width="5" height="5" fill="#000"/>
<rect x="1509.69" y="181.23" width="5" height="5" fill="#000"/>
<path d="M1521.36 265.62L1523.96 270.43L1518.76 270.43Z" fill="#000"/>
<path d="M1526.33 262.94L1528.93 267.75L1523.73 267.75Z" fill="#000"/>
<path d="M1531.11 265.24L1533.71 270.05L1528.51 270.05Z" fill="#000"/>
<circle cx="1554.62" cy="142.05" r="2.5" fill="#000"/>
<circle cx="1554.62" cy="168.05" r="2.5" fill="#000"/>
<circle cx="1554.62" cy="177.04" r="2.5" fill="#000"/>
<rect x="1566.46" y="142.42" width="5" height="5" fill="#000"/>
<rect x="1561.68" y="163.07" width="5" height="5" fill="#000"/>
<rect x="1571.24" y="160.96" width="5" height="5" fill="#000"/>
<path d="M1583.3 140.22L1585.9 145.03L1580.7 145.03Z" fill="#000"/>
<path d="M1578.52 158.19L1581.12 163L1575.92 163Z" fill="#000"/>
<path d="M1588.27 157.42L1590.87 162.23L1585.67 162.23Z" fill="#000"/>
<circle cx="1606.95" cy="271.66" r="2.5" fill="#000"/>
<circle cx="1611.73" cy="268.22" r="2.5" fill="#000"/>
<circle cx="1616.51" cy="271.47" r="2.5" fill="#000"/>
<rect x="1618.41" y="190.79" width="5" height="5" fill="#000"/>
<rect x="1628.16" y="194.04" width="5" height="5" fill="#000"/>
<rect x="1623.19" y="201.3" width="5" height="5" fill="#000"/>
<path d="M1635.44 266.77L1638.04 271.58L1632.84 271.58Z" fill="#000"/>
<path d="M1640.22 263.33L1642.82 268.14L1637.62 268.14Z" fill="#000"/>
<path d="M1645.19 266.77L1647.79 271.58L1642.59 271.58Z" fill="#000"/>
<circle cx="1663.73" cy="275.48" r="2.5" fill="#000"/>
<circle cx="1668.51" cy="274.91" r="2.5" fill="#000"/>
<circle cx="1673.29" cy="275.48" r="2.5" fill="#000"/>
<rect x="1675.56" y="165.74" width="5" height="5" fill="#000"/>
<rect x="1685.12" y="168.04" width="5" height="5" fill="#000"/>
<rect x="1680.34" y="176.83" width="5" height="5" fill="#000"/>
<path d="M1692.78 273.65L1695.38 278.46L1690.18 278.46Z" fill="#000"/>
<path d="M1697.37 273.27L1699.97 278.08L1694.77 278.08Z" fill="#000"/>
<path d="M1701.96 273.65L1704.56 278.46L1699.36 278.46Z" fill="#000"/>
<circle cx="1725.28" cy="142.25" r="2.5" fill="#000"/>
<circle cx="1725.28" cy="156.58" r="2.5" fill="#000"/>
<circle cx="1725.28" cy="165.76" r="2.5" fill="#000"/>
<rect x="1737.31" y="134.58" width="5" height="5" fill="#000"/>
<rect x="1732.34" y="155.42" width="5" height="5" fill="#000"/>
<rect x="1742.09" y="151.98" width="5" height="5" fill="#000"/>
<path d="M1753.95 151.5L1756.55 156.31L1751.35 156.31Z" fill="#000"/>
<path d="M1749.18 170.04L1751.78 174.85L1746.58 174.85Z" fill="#000"/>
<path d="M1758.92 169.66L1761.52 174.47L1756.32 174.47Z" fill="#000"/>
<circle cx="1782.44" cy="176.65" r="2.5" fill="#000"/>
<circle cx="1782.44" cy="190.8" r="2.5" fill="#000"/>
<circle cx="1782.44" cy="225.21" r="2.5" fill="#000"/>
<rect x="1789.11" y="171.67" width="5" height="5" fill="#000"/>
<rect x="1798.86" y="172.63" width="5" height="5" fill="#000"/>
<rect x="1793.89" y="181.8" width="5" height="5" fill="#000"/>
<path d="M1810.73 166.6L1813.33 171.41L1808.13 171.41Z" fill="#000"/>
<path d="M1805.95 190.69L1808.55 195.5L1803.35 195.5Z" fill="#000"/>
<path d="M1815.7 189.54L1818.3 194.35L1813.1 194.35Z" fill="#000"/>
<circle cx="1839.21" cy="203.99" r="2.5" fill="#000"/>
<circle cx="1839.21" cy="218.52" r="2.5" fill="#000"/>
<circle cx="1839.21" cy="232.47" r="2.5" fill="#000"/>
<rect x="1846.08" y="149.5" width="5" height="5" fill="#000"/>
<rect x="1855.83" y="150.07" width="5" height="5" fill="#000"/>
<rect x="1850.86" y="157.33" width="5" height="5" fill="#000"/>
<path d="M1867.69 175.39L1870.29 180.2L1865.09 180.2Z" fill="#000"/>
<path d="M1862.92 202.16L1865.52 206.97L1860.32 206.97Z" fill="#000"/>
<path d="M1872.66 198.14L1875.26 202.95L1870.06 202.95Z" fill="#000"/>
<circle cx="1891.33" cy="274.7" r="2.5" fill="#000"/>
<circle cx="1895.91" cy="270.97" r="2.5" fill="#000"/>
<circle cx="1900.79" cy="273.84" r="2.5" fill="#000"/>
<rect x="1903.45" y="236.93" width="5" height="5" fill="#000"/>
<rect x="1908.04" y="235.49" width="5" height="5" fill="#000"/>
<rect x="1912.63" y="237.21" width="5" height="5" fill="#000"/>
<path d="M1919.71 264.64L1922.31 269.45L1917.11 269.45Z" fill="#000"/>
<path d="M1924.59 260.34L1927.19 265.15L1921.99 265.15Z" fill="#000"/>
<path d="M1929.75 264.07L1932.35 268.88L1927.15 268.88Z" fill="#000"/>
<circle cx="1948.8" cy="278.4" r="2.3" fill="#000"/>
<circle cx="1953.5" cy="278.4" r="2.3" fill="#000"/>
<circle cx="1958.3" cy="278.4" r="2.3" fill="#000"/>
<rect x="1960.7" y="276.1" width="4.6" height="4.6" fill="#000"/>
<rect x="1965.5" y="276.1" width="4.6" height="4.6" fill="#000"/>
<rect x="1970.2" y="276.1" width="4.6" height="4.6" fill="#000"/>
<path d="M1977.3 276L1979.7 280.44L1974.9 280.44Z" fill="#000"/>
<path d="M1982 276L1984.4 280.44L1979.6 280.44Z" fill="#000"/>
<path d="M1986.8 276L1989.2 280.44L1984.4 280.44Z" fill="#000"/>
<line x1="1018.4" y1="278.3" x2="1028.6" y2="278.3" stroke="#000" stroke-width="3"/>
<text x="1013.3" y="285.8" font-size="21" font-weight="bold" text-anchor="end">0</text>
<line x1="1018.4" y1="204.27" x2="1028.6" y2="204.27" stroke="#000" stroke-width="3"/>
<text x="1015.3" y="211.67" font-size="21.2" font-weight="bold" text-anchor="end">5×10<tspan font-size="15.26" dy="-6.57" dx="1.06">6</tspan></text>
<line x1="1018.4" y1="130.23" x2="1028.6" y2="130.23" stroke="#000" stroke-width="3"/>
<text x="1015.3" y="137.63" font-size="21.2" font-weight="bold" text-anchor="end">1×10<tspan font-size="15.26" dy="-6.57" dx="1.06">7</tspan></text>
<line x1="1018.4" y1="56.2" x2="1028.6" y2="56.2" stroke="#000" stroke-width="3"/>
<text x="1015.3" y="63.6" font-size="21.2" font-weight="bold" text-anchor="end">1.5×10<tspan font-size="15.26" dy="-6.57" dx="1.06">7</tspan></text>
<line x1="1056.6" y1="278.3" x2="1056.6" y2="288.3" stroke="#000" stroke-width="3"/>
<text x="1064.4" y="306.6" font-size="21.6" font-weight="bold" text-anchor="end" transform="rotate(-45 1064.4 306.6)">rA-dA</text>
<line x1="1113.47" y1="278.3" x2="1113.47" y2="288.3" stroke="#000" stroke-width="3"/>
<text x="1121.27" y="306.6" font-size="21.6" font-weight="bold" text-anchor="end" transform="rotate(-45 1121.27 306.6)">rG-dA</text>
<line x1="1170.34" y1="278.3" x2="1170.34" y2="288.3" stroke="#000" stroke-width="3"/>
<text x="1178.14" y="306.6" font-size="21.6" font-weight="bold" text-anchor="end" transform="rotate(-45 1178.14 306.6)">rC-dA</text>
<line x1="1227.21" y1="278.3" x2="1227.21" y2="288.3" stroke="#000" stroke-width="3"/>
<text x="1235.01" y="306.6" font-size="21.6" font-weight="bold" text-anchor="end" transform="rotate(-45 1235.01 306.6)">rU-dA</text>
<line x1="1284.08" y1="278.3" x2="1284.08" y2="288.3" stroke="#000" stroke-width="3"/>
<text x="1291.88" y="306.6" font-size="21.6" font-weight="bold" text-anchor="end" transform="rotate(-45 1291.88 306.6)">rA-dG</text>
<line x1="1340.95" y1="278.3" x2="1340.95" y2="288.3" stroke="#000" stroke-width="3"/>
<text x="1348.75" y="306.6" font-size="21.6" font-weight="bold" text-anchor="end" transform="rotate(-45 1348.75 306.6)">rG-dG</text>
<line x1="1397.82" y1="278.3" x2="1397.82" y2="288.3" stroke="#000" stroke-width="3"/>
<text x="1405.62" y="306.6" font-size="21.6" font-weight="bold" text-anchor="end" transform="rotate(-45 1405.62 306.6)">rC-dG</text>
<line x1="1454.69" y1="278.3" x2="1454.69" y2="288.3" stroke="#000" stroke-width="3"/>
<text x="1462.49" y="306.6" font-size="21.6" font-weight="bold" text-anchor="end" transform="rotate(-45 1462.49 306.6)">rU-dG</text>
<line x1="1511.56" y1="278.3" x2="1511.56" y2="288.3" stroke="#000" stroke-width="3"/>
<text x="1519.36" y="306.6" font-size="21.6" font-weight="bold" text-anchor="end" transform="rotate(-45 1519.36 306.6)">rA-dC</text>
<line x1="1568.43" y1="278.3" x2="1568.43" y2="288.3" stroke="#000" stroke-width="3"/>
<text x="1576.23" y="306.6" font-size="21.6" font-weight="bold" text-anchor="end" transform="rotate(-45 1576.23 306.6)">rG-dC</text>
<line x1="1625.3" y1="278.3" x2="1625.3" y2="288.3" stroke="#000" stroke-width="3"/>
<text x="1633.1" y="306.6" font-size="21.6" font-weight="bold" text-anchor="end" transform="rotate(-45 1633.1 306.6)">rC-dC</text>
<line x1="1682.17" y1="278.3" x2="1682.17" y2="288.3" stroke="#000" stroke-width="3"/>
<text x="1689.97" y="306.6" font-size="21.6" font-weight="bold" text-anchor="end" transform="rotate(-45 1689.97 306.6)">rU-dC</text>
<line x1="1739.04" y1="278.3" x2="1739.04" y2="288.3" stroke="#000" stroke-width="3"/>
<text x="1746.84" y="306.6" font-size="21.6" font-weight="bold" text-anchor="end" transform="rotate(-45 1746.84 306.6)">rA-dT</text>
<line x1="1795.91" y1="278.3" x2="1795.91" y2="288.3" stroke="#000" stroke-width="3"/>
<text x="1803.71" y="306.6" font-size="21.6" font-weight="bold" text-anchor="end" transform="rotate(-45 1803.71 306.6)">rG-dT</text>
<line x1="1852.78" y1="278.3" x2="1852.78" y2="288.3" stroke="#000" stroke-width="3"/>
<text x="1860.58" y="306.6" font-size="21.6" font-weight="bold" text-anchor="end" transform="rotate(-45 1860.58 306.6)">rC-dT</text>
<line x1="1909.65" y1="278.3" x2="1909.65" y2="288.3" stroke="#000" stroke-width="3"/>
<text x="1917.45" y="306.6" font-size="21.6" font-weight="bold" text-anchor="end" transform="rotate(-45 1917.45 306.6)">rU-dT</text>
<line x1="1966.52" y1="278.3" x2="1966.52" y2="288.3" stroke="#000" stroke-width="3"/>
<text x="1974.32" y="306.6" font-size="21.6" font-weight="bold" text-anchor="end" transform="rotate(-45 1974.32 306.6)">NTC</text>
<text x="925.2" y="305" font-size="20.5" textLength="283.5" lengthAdjust="spacingAndGlyphs" transform="rotate(-90 925.2 305)" stroke="#000" stroke-width="0.5"><tspan font-size="18.8" dy="-3.0">△</tspan><tspan dy="3.0" dx="-2.6">Fluoresence intensity(A.U)</tspan></text>
<circle cx="1846.6" cy="34.4" r="2.3" fill="#000"/>
<rect x="1844.1" y="61.2" width="5" height="5" fill="#000"/>
<path d="M1846.6 91.2L1849.1 95.83L1844.1 95.83Z" fill="#000"/>
<text x="1872.6" y="41.1" font-size="21.6" font-weight="bold" textLength="122" lengthAdjust="spacingAndGlyphs"><tspan font-style="italic">CPSIT</tspan>_0429</text>
<rect x="1934" y="43.5" width="11.6" height="2.2" fill="#000"/>
<text x="1872.6" y="70.9" font-size="21.7" font-weight="bold">D614G</text>
<text x="1872.6" y="101.1" font-size="21.7" font-weight="bold">R346T</text>
<text x="930.2" y="32.9" font-size="33" font-weight="bold">b</text>
</g>
<g id="panel-c">
<rect x="1195" y="365.3" width="42.97" height="45.92" fill="#fbf5f6" stroke="#5e5053" stroke-width="0.7"/>
<rect x="1237.97" y="365.3" width="42.97" height="45.92" fill="#f8ecee" stroke="#5e5053" stroke-width="0.7"/>
<rect x="1280.94" y="365.3" width="42.97" height="45.92" fill="#fcf6f7" stroke="#5e5053" stroke-width="0.7"/>
<rect x="1323.91" y="365.3" width="42.97" height="45.92" fill="#f7e4e7" stroke="#5e5053" stroke-width="0.7"/>
<rect x="1366.88" y="365.3" width="42.97" height="45.92" fill="#f7e9eb" stroke="#5e5053" stroke-width="0.7"/>
<rect x="1409.85" y="365.3" width="42.97" height="45.92" fill="#f3a8b0" stroke="#5e5053" stroke-width="0.7"/>
<rect x="1452.82" y="365.3" width="42.97" height="45.92" fill="#f7e9eb" stroke="#5e5053" stroke-width="0.7"/>
<rect x="1495.79" y="365.3" width="42.97" height="45.92" fill="#fa1d0d" stroke="#5e5053" stroke-width="0.7"/>
<rect x="1538.76" y="365.3" width="42.97" height="45.92" fill="#fa1d0d" stroke="#5e5053" stroke-width="0.7"/>
<rect x="1581.73" y="365.3" width="42.97" height="45.92" fill="#f1888f" stroke="#5e5053" stroke-width="0.7"/>
<rect x="1624.7" y="365.3" width="42.97" height="45.92" fill="#f4b3ba" stroke="#5e5053" stroke-width="0.7"/>
<rect x="1667.67" y="365.3" width="42.97" height="45.92" fill="#fa1d0d" stroke="#5e5053" stroke-width="0.7"/>
<rect x="1710.64" y="365.3" width="42.97" height="45.92" fill="#fa1d0d" stroke="#5e5053" stroke-width="0.7"/>
<rect x="1753.61" y="365.3" width="42.97" height="45.92" fill="#fa1d0d" stroke="#5e5053" stroke-width="0.7"/>
<rect x="1796.58" y="365.3" width="42.97" height="45.92" fill="#fa1d0d" stroke="#5e5053" stroke-width="0.7"/>
<rect x="1839.55" y="365.3" width="42.97" height="45.92" fill="#f1858c" stroke="#5e5053" stroke-width="0.7"/>
<rect x="1195" y="411.22" width="42.97" height="45.92" fill="#f7e3e6" stroke="#5e5053" stroke-width="0.7"/>
<rect x="1237.97" y="411.22" width="42.97" height="45.92" fill="#f9f0f1" stroke="#5e5053" stroke-width="0.7"/>
<rect x="1280.94" y="411.22" width="42.97" height="45.92" fill="#f6dade" stroke="#5e5053" stroke-width="0.7"/>
<rect x="1323.91" y="411.22" width="42.97" height="45.92" fill="#f6dee1" stroke="#5e5053" stroke-width="0.7"/>
<rect x="1366.88" y="411.22" width="42.97" height="45.92" fill="#f6dee1" stroke="#5e5053" stroke-width="0.7"/>
<rect x="1409.85" y="411.22" width="42.97" height="45.92" fill="#fa1d0d" stroke="#5e5053" stroke-width="0.7"/>
<rect x="1452.82" y="411.22" width="42.97" height="45.92" fill="#f7e0e3" stroke="#5e5053" stroke-width="0.7"/>
<rect x="1495.79" y="411.22" width="42.97" height="45.92" fill="#fa1d0d" stroke="#5e5053" stroke-width="0.7"/>
<rect x="1538.76" y="411.22" width="42.97" height="45.92" fill="#fa1d0d" stroke="#5e5053" stroke-width="0.7"/>
<rect x="1581.73" y="411.22" width="42.97" height="45.92" fill="#fa1d0d" stroke="#5e5053" stroke-width="0.7"/>
<rect x="1624.7" y="411.22" width="42.97" height="45.92" fill="#f29ca4" stroke="#5e5053" stroke-width="0.7"/>
<rect x="1667.67" y="411.22" width="42.97" height="45.92" fill="#fa1d0d" stroke="#5e5053" stroke-width="0.7"/>
<rect x="1710.64" y="411.22" width="42.97" height="45.92" fill="#fa1d0d" stroke="#5e5053" stroke-width="0.7"/>
<rect x="1753.61" y="411.22" width="42.97" height="45.92" fill="#f25c64" stroke="#5e5053" stroke-width="0.7"/>
<rect x="1796.58" y="411.22" width="42.97" height="45.92" fill="#fa1d0d" stroke="#5e5053" stroke-width="0.7"/>
<rect x="1839.55" y="411.22" width="42.97" height="45.92" fill="#f4b9c0" stroke="#5e5053" stroke-width="0.7"/>
<rect x="1195" y="457.14" width="42.97" height="45.92" fill="#fffefe" stroke="#5e5053" stroke-width="0.7"/>
<rect x="1237.97" y="457.14" width="42.97" height="45.92" fill="#fefcfc" stroke="#5e5053" stroke-width="0.7"/>
<rect x="1280.94" y="457.14" width="42.97" height="45.92" fill="#fcf8f9" stroke="#5e5053" stroke-width="0.7"/>
<rect x="1323.91" y="457.14" width="42.97" height="45.92" fill="#f8eaec" stroke="#5e5053" stroke-width="0.7"/>
<rect x="1366.88" y="457.14" width="42.97" height="45.92" fill="#fcf8f9" stroke="#5e5053" stroke-width="0.7"/>
<rect x="1409.85" y="457.14" width="42.97" height="45.92" fill="#f7e1e4" stroke="#5e5053" stroke-width="0.7"/>
<rect x="1452.82" y="457.14" width="42.97" height="45.92" fill="#fefbfc" stroke="#5e5053" stroke-width="0.7"/>
<rect x="1495.79" y="457.14" width="42.97" height="45.92" fill="#f8ebed" stroke="#5e5053" stroke-width="0.7"/>
<rect x="1538.76" y="457.14" width="42.97" height="45.92" fill="#fbf3f5" stroke="#5e5053" stroke-width="0.7"/>
<rect x="1581.73" y="457.14" width="42.97" height="45.92" fill="#f7e8ea" stroke="#5e5053" stroke-width="0.7"/>
<rect x="1624.7" y="457.14" width="42.97" height="45.92" fill="#f8eaec" stroke="#5e5053" stroke-width="0.7"/>
<rect x="1667.67" y="457.14" width="42.97" height="45.92" fill="#f16169" stroke="#5e5053" stroke-width="0.7"/>
<rect x="1710.64" y="457.14" width="42.97" height="45.92" fill="#f24850" stroke="#5e5053" stroke-width="0.7"/>
<rect x="1753.61" y="457.14" width="42.97" height="45.92" fill="#f2959c" stroke="#5e5053" stroke-width="0.7"/>
<rect x="1796.58" y="457.14" width="42.97" height="45.92" fill="#f3abb3" stroke="#5e5053" stroke-width="0.7"/>
<rect x="1839.55" y="457.14" width="42.97" height="45.92" fill="#fdfafb" stroke="#5e5053" stroke-width="0.7"/>
<rect x="1195" y="503.06" width="42.97" height="45.92" fill="#fefcfc" stroke="#5e5053" stroke-width="0.7"/>
<rect x="1237.97" y="503.06" width="42.97" height="45.92" fill="#fcf6f7" stroke="#5e5053" stroke-width="0.7"/>
<rect x="1280.94" y="503.06" width="42.97" height="45.92" fill="#f7e0e3" stroke="#5e5053" stroke-width="0.7"/>
<rect x="1323.91" y="503.06" width="42.97" height="45.92" fill="#f5c8ce" stroke="#5e5053" stroke-width="0.7"/>
<rect x="1366.88" y="503.06" width="42.97" height="45.92" fill="#f8ebed" stroke="#5e5053" stroke-width="0.7"/>
<rect x="1409.85" y="503.06" width="42.97" height="45.92" fill="#f6d4d9" stroke="#5e5053" stroke-width="0.7"/>
<rect x="1452.82" y="503.06" width="42.97" height="45.92" fill="#f7e9eb" stroke="#5e5053" stroke-width="0.7"/>
<rect x="1495.79" y="503.06" width="42.97" height="45.92" fill="#f3aeb6" stroke="#5e5053" stroke-width="0.7"/>
<rect x="1538.76" y="503.06" width="42.97" height="45.92" fill="#f4c0c7" stroke="#5e5053" stroke-width="0.7"/>
<rect x="1581.73" y="503.06" width="42.97" height="45.92" fill="#fa1d0d" stroke="#5e5053" stroke-width="0.7"/>
<rect x="1624.7" y="503.06" width="42.97" height="45.92" fill="#f24a51" stroke="#5e5053" stroke-width="0.7"/>
<rect x="1667.67" y="503.06" width="42.97" height="45.92" fill="#f1848c" stroke="#5e5053" stroke-width="0.7"/>
<rect x="1710.64" y="503.06" width="42.97" height="45.92" fill="#fa1d0d" stroke="#5e5053" stroke-width="0.7"/>
<rect x="1753.61" y="503.06" width="42.97" height="45.92" fill="#f25a62" stroke="#5e5053" stroke-width="0.7"/>
<rect x="1796.58" y="503.06" width="42.97" height="45.92" fill="#f1747c" stroke="#5e5053" stroke-width="0.7"/>
<rect x="1839.55" y="503.06" width="42.97" height="45.92" fill="#f7e8ea" stroke="#5e5053" stroke-width="0.7"/>
<rect x="1195" y="548.98" width="42.97" height="45.92" fill="#fefcfc" stroke="#5e5053" stroke-width="0.7"/>
<rect x="1237.97" y="548.98" width="42.97" height="45.92" fill="#ffffff" stroke="#5e5053" stroke-width="0.7"/>
<rect x="1280.94" y="548.98" width="42.97" height="45.92" fill="#fcf7f8" stroke="#5e5053" stroke-width="0.7"/>
<rect x="1323.91" y="548.98" width="42.97" height="45.92" fill="#f8ecee" stroke="#5e5053" stroke-width="0.7"/>
<rect x="1366.88" y="548.98" width="42.97" height="45.92" fill="#f7e7e9" stroke="#5e5053" stroke-width="0.7"/>
<rect x="1409.85" y="548.98" width="42.97" height="45.92" fill="#fcf6f7" stroke="#5e5053" stroke-width="0.7"/>
<rect x="1452.82" y="548.98" width="42.97" height="45.92" fill="#f34148" stroke="#5e5053" stroke-width="0.7"/>
<rect x="1495.79" y="548.98" width="42.97" height="45.92" fill="#f9eef0" stroke="#5e5053" stroke-width="0.7"/>
<rect x="1538.76" y="548.98" width="42.97" height="45.92" fill="#fa1d0d" stroke="#5e5053" stroke-width="0.7"/>
<rect x="1581.73" y="548.98" width="42.97" height="45.92" fill="#fa1d0d" stroke="#5e5053" stroke-width="0.7"/>
<rect x="1624.7" y="548.98" width="42.97" height="45.92" fill="#f4b5bc" stroke="#5e5053" stroke-width="0.7"/>
<rect x="1667.67" y="548.98" width="42.97" height="45.92" fill="#f7e2e5" stroke="#5e5053" stroke-width="0.7"/>
<rect x="1710.64" y="548.98" width="42.97" height="45.92" fill="#fa1d0d" stroke="#5e5053" stroke-width="0.7"/>
<rect x="1753.61" y="548.98" width="42.97" height="45.92" fill="#fa1d0d" stroke="#5e5053" stroke-width="0.7"/>
<rect x="1796.58" y="548.98" width="42.97" height="45.92" fill="#fa1d0d" stroke="#5e5053" stroke-width="0.7"/>
<rect x="1839.55" y="548.98" width="42.97" height="45.92" fill="#fdf9fa" stroke="#5e5053" stroke-width="0.7"/>
<rect x="1195" y="594.9" width="42.97" height="45.92" fill="#fa1d0d" stroke="#5e5053" stroke-width="0.7"/>
<rect x="1237.97" y="594.9" width="42.97" height="45.92" fill="#f25058" stroke="#5e5053" stroke-width="0.7"/>
<rect x="1280.94" y="594.9" width="42.97" height="45.92" fill="#f3aab2" stroke="#5e5053" stroke-width="0.7"/>
<rect x="1323.91" y="594.9" width="42.97" height="45.92" fill="#f1888f" stroke="#5e5053" stroke-width="0.7"/>
<rect x="1366.88" y="594.9" width="42.97" height="45.92" fill="#fa1d0d" stroke="#5e5053" stroke-width="0.7"/>
<rect x="1409.85" y="594.9" width="42.97" height="45.92" fill="#f24e55" stroke="#5e5053" stroke-width="0.7"/>
<rect x="1452.82" y="594.9" width="42.97" height="45.92" fill="#fa1d0d" stroke="#5e5053" stroke-width="0.7"/>
<rect x="1495.79" y="594.9" width="42.97" height="45.92" fill="#fa1d0d" stroke="#5e5053" stroke-width="0.7"/>
<rect x="1538.76" y="594.9" width="42.97" height="45.92" fill="#fa1d0d" stroke="#5e5053" stroke-width="0.7"/>
<rect x="1581.73" y="594.9" width="42.97" height="45.92" fill="#fa1d0d" stroke="#5e5053" stroke-width="0.7"/>
<rect x="1624.7" y="594.9" width="42.97" height="45.92" fill="#fa1d0d" stroke="#5e5053" stroke-width="0.7"/>
<rect x="1667.67" y="594.9" width="42.97" height="45.92" fill="#fa1d0d" stroke="#5e5053" stroke-width="0.7"/>
<rect x="1710.64" y="594.9" width="42.97" height="45.92" fill="#fa1d0d" stroke="#5e5053" stroke-width="0.7"/>
<rect x="1753.61" y="594.9" width="42.97" height="45.92" fill="#fa1d0d" stroke="#5e5053" stroke-width="0.7"/>
<rect x="1796.58" y="594.9" width="42.97" height="45.92" fill="#fa1d0d" stroke="#5e5053" stroke-width="0.7"/>
<rect x="1839.55" y="594.9" width="42.97" height="45.92" fill="#f25159" stroke="#5e5053" stroke-width="0.7"/>
<text x="1216.48" y="392.26" font-size="13" text-anchor="middle">2.3</text>
<text x="1259.45" y="392.26" font-size="13" text-anchor="middle">3.0</text>
<text x="1302.42" y="392.26" font-size="13" text-anchor="middle">2.2</text>
<text x="1345.39" y="392.26" font-size="13" text-anchor="middle">4.0</text>
<text x="1388.37" y="392.26" font-size="13" text-anchor="middle">3.4</text>
<text x="1431.34" y="392.26" font-size="13" text-anchor="middle">10.2</text>
<text x="1474.31" y="392.26" font-size="13" text-anchor="middle">3.4</text>
<text x="1517.28" y="392.26" font-size="13" text-anchor="middle">38.5</text>
<text x="1560.24" y="392.26" font-size="13" text-anchor="middle">54.2</text>
<text x="1603.21" y="392.26" font-size="13" text-anchor="middle">14.0</text>
<text x="1646.18" y="392.26" font-size="13" text-anchor="middle">9.1</text>
<text x="1689.15" y="392.26" font-size="13" text-anchor="middle">136.4</text>
<text x="1732.12" y="392.26" font-size="13" text-anchor="middle">84.0</text>
<text x="1775.1" y="392.26" font-size="13" text-anchor="middle">35.5</text>
<text x="1818.07" y="392.26" font-size="13" text-anchor="middle">54.9</text>
<text x="1861.03" y="392.26" font-size="13" text-anchor="middle">14.5</text>
<text x="1216.48" y="438.18" font-size="13" text-anchor="middle">4.1</text>
<text x="1259.45" y="438.18" font-size="13" text-anchor="middle">2.7</text>
<text x="1302.42" y="438.18" font-size="13" text-anchor="middle">5.1</text>
<text x="1345.39" y="438.18" font-size="13" text-anchor="middle">4.7</text>
<text x="1388.37" y="438.18" font-size="13" text-anchor="middle">4.7</text>
<text x="1431.34" y="438.18" font-size="13" text-anchor="middle">49.2</text>
<text x="1474.31" y="438.18" font-size="13" text-anchor="middle">4.4</text>
<text x="1517.28" y="438.18" font-size="13" text-anchor="middle">149.8</text>
<text x="1560.24" y="438.18" font-size="13" text-anchor="middle">92.7</text>
<text x="1603.21" y="438.18" font-size="13" text-anchor="middle">42.8</text>
<text x="1646.18" y="438.18" font-size="13" text-anchor="middle">11.6</text>
<text x="1689.15" y="438.18" font-size="13" text-anchor="middle">156.6</text>
<text x="1732.12" y="438.18" font-size="13" text-anchor="middle">80.4</text>
<text x="1775.1" y="438.18" font-size="13" text-anchor="middle">23.1</text>
<text x="1818.07" y="438.18" font-size="13" text-anchor="middle">105.2</text>
<text x="1861.03" y="438.18" font-size="13" text-anchor="middle">8.5</text>
<text x="1216.48" y="484.1" font-size="13" text-anchor="middle">1.4</text>
<text x="1259.45" y="484.1" font-size="13" text-anchor="middle">1.6</text>
<text x="1302.42" y="484.1" font-size="13" text-anchor="middle">2.0</text>
<text x="1345.39" y="484.1" font-size="13" text-anchor="middle">3.3</text>
<text x="1388.37" y="484.1" font-size="13" text-anchor="middle">2.0</text>
<text x="1431.34" y="484.1" font-size="13" text-anchor="middle">4.3</text>
<text x="1474.31" y="484.1" font-size="13" text-anchor="middle">1.7</text>
<text x="1517.28" y="484.1" font-size="13" text-anchor="middle">3.1</text>
<text x="1560.24" y="484.1" font-size="13" text-anchor="middle">2.4</text>
<text x="1603.21" y="484.1" font-size="13" text-anchor="middle">3.5</text>
<text x="1646.18" y="484.1" font-size="13" text-anchor="middle">3.3</text>
<text x="1689.15" y="484.1" font-size="13" text-anchor="middle">21.9</text>
<text x="1732.12" y="484.1" font-size="13" text-anchor="middle">27.7</text>
<text x="1775.1" y="484.1" font-size="13" text-anchor="middle">12.5</text>
<text x="1818.07" y="484.1" font-size="13" text-anchor="middle">9.9</text>
<text x="1861.03" y="484.1" font-size="13" text-anchor="middle">1.8</text>
<text x="1216.48" y="530.02" font-size="13" text-anchor="middle">1.6</text>
<text x="1259.45" y="530.02" font-size="13" text-anchor="middle">2.2</text>
<text x="1302.42" y="530.02" font-size="13" text-anchor="middle">4.4</text>
<text x="1345.39" y="530.02" font-size="13" text-anchor="middle">7.0</text>
<text x="1388.37" y="530.02" font-size="13" text-anchor="middle">3.1</text>
<text x="1431.34" y="530.02" font-size="13" text-anchor="middle">5.7</text>
<text x="1474.31" y="530.02" font-size="13" text-anchor="middle">3.4</text>
<text x="1517.28" y="530.02" font-size="13" text-anchor="middle">9.6</text>
<text x="1560.24" y="530.02" font-size="13" text-anchor="middle">7.8</text>
<text x="1603.21" y="530.02" font-size="13" text-anchor="middle">43.5</text>
<text x="1646.18" y="530.02" font-size="13" text-anchor="middle">27.4</text>
<text x="1689.15" y="530.02" font-size="13" text-anchor="middle">14.7</text>
<text x="1732.12" y="530.02" font-size="13" text-anchor="middle">72.1</text>
<text x="1775.1" y="530.02" font-size="13" text-anchor="middle">23.5</text>
<text x="1818.07" y="530.02" font-size="13" text-anchor="middle">17.8</text>
<text x="1861.03" y="530.02" font-size="13" text-anchor="middle">3.6</text>
<text x="1216.48" y="575.94" font-size="13" text-anchor="middle">1.6</text>
<text x="1259.45" y="575.94" font-size="13" text-anchor="middle">1.3</text>
<text x="1302.42" y="575.94" font-size="13" text-anchor="middle">2.1</text>
<text x="1345.39" y="575.94" font-size="13" text-anchor="middle">3.0</text>
<text x="1388.37" y="575.94" font-size="13" text-anchor="middle">3.7</text>
<text x="1431.34" y="575.94" font-size="13" text-anchor="middle">2.2</text>
<text x="1474.31" y="575.94" font-size="13" text-anchor="middle">29.5</text>
<text x="1517.28" y="575.94" font-size="13" text-anchor="middle">2.8</text>
<text x="1560.24" y="575.94" font-size="13" text-anchor="middle">44.4</text>
<text x="1603.21" y="575.94" font-size="13" text-anchor="middle">41.6</text>
<text x="1646.18" y="575.94" font-size="13" text-anchor="middle">8.9</text>
<text x="1689.15" y="575.94" font-size="13" text-anchor="middle">4.2</text>
<text x="1732.12" y="575.94" font-size="13" text-anchor="middle">49.1</text>
<text x="1775.1" y="575.94" font-size="13" text-anchor="middle">232.6</text>
<text x="1818.07" y="575.94" font-size="13" text-anchor="middle">95.2</text>
<text x="1861.03" y="575.94" font-size="13" text-anchor="middle">1.9</text>
<text x="1216.48" y="621.86" font-size="13" text-anchor="middle">38.2</text>
<text x="1259.45" y="621.86" font-size="13" text-anchor="middle">25.8</text>
<text x="1302.42" y="621.86" font-size="13" text-anchor="middle">10.0</text>
<text x="1345.39" y="621.86" font-size="13" text-anchor="middle">14.0</text>
<text x="1388.37" y="621.86" font-size="13" text-anchor="middle">38.1</text>
<text x="1431.34" y="621.86" font-size="13" text-anchor="middle">26.4</text>
<text x="1474.31" y="621.86" font-size="13" text-anchor="middle">63.8</text>
<text x="1517.28" y="621.86" font-size="13" text-anchor="middle">32.5</text>
<text x="1560.24" y="621.86" font-size="13" text-anchor="middle">125.1</text>
<text x="1603.21" y="621.86" font-size="13" text-anchor="middle">445.5</text>
<text x="1646.18" y="621.86" font-size="13" text-anchor="middle">53.2</text>
<text x="1689.15" y="621.86" font-size="13" text-anchor="middle">36.7</text>
<text x="1732.12" y="621.86" font-size="13" text-anchor="middle">665.7</text>
<text x="1775.1" y="621.86" font-size="13" text-anchor="middle">657.8</text>
<text x="1861.03" y="621.86" font-size="13" text-anchor="middle">25.5</text>
<line x1="1188.8" y1="388.26" x2="1195" y2="388.26" stroke="#666" stroke-width="0.8"/>
<text x="1184.3" y="394.56" font-size="18.25" font-weight="bold" text-anchor="end"><tspan font-style="italic" font-weight="normal">CPSIT</tspan>_0429 T14C/T14C&amp;SNV</text>
<rect x="984" y="395.96" width="10.4" height="2.3" fill="#000"/>
<line x1="1188.8" y1="434.18" x2="1195" y2="434.18" stroke="#666" stroke-width="0.8"/>
<text x="1184.3" y="440.48" font-size="18.25" font-weight="bold" text-anchor="end"><tspan font-style="italic" font-weight="normal">CPSIT</tspan>_0429 T14A/T14A&amp;SNV</text>
<rect x="984" y="441.88" width="10.4" height="2.3" fill="#000"/>
<line x1="1188.8" y1="480.1" x2="1195" y2="480.1" stroke="#666" stroke-width="0.8"/>
<text x="1184.3" y="486.4" font-size="18.25" font-weight="bold" text-anchor="end">D614G T14C/T14C&amp;SNV</text>
<line x1="1188.8" y1="526.02" x2="1195" y2="526.02" stroke="#666" stroke-width="0.8"/>
<text x="1184.3" y="532.32" font-size="18.25" font-weight="bold" text-anchor="end">D614G T14A/T14A&amp;SNV</text>
<line x1="1188.8" y1="571.94" x2="1195" y2="571.94" stroke="#666" stroke-width="0.8"/>
<text x="1184.3" y="578.24" font-size="18.25" font-weight="bold" text-anchor="end">R346T T14C/T14C&amp;SNV</text>
<line x1="1188.8" y1="617.86" x2="1195" y2="617.86" stroke="#666" stroke-width="0.8"/>
<text x="1184.3" y="624.16" font-size="18.25" font-weight="bold" text-anchor="end">R346T T14A/T14A&amp;SNV</text>
<line x1="1216.48" y1="640.82" x2="1216.48" y2="647.42" stroke="#666" stroke-width="0.8"/>
<text x="1216.48" y="666.3" font-size="17.5" font-weight="bold" text-anchor="middle">13</text>
<line x1="1259.45" y1="640.82" x2="1259.45" y2="647.42" stroke="#666" stroke-width="0.8"/>
<text x="1259.45" y="666.3" font-size="17.5" font-weight="bold" text-anchor="middle">12</text>
<line x1="1302.42" y1="640.82" x2="1302.42" y2="647.42" stroke="#666" stroke-width="0.8"/>
<text x="1302.42" y="666.3" font-size="17.5" font-weight="bold" text-anchor="middle">11</text>
<line x1="1345.39" y1="640.82" x2="1345.39" y2="647.42" stroke="#666" stroke-width="0.8"/>
<text x="1345.39" y="666.3" font-size="17.5" font-weight="bold" text-anchor="middle">10</text>
<line x1="1388.37" y1="640.82" x2="1388.37" y2="647.42" stroke="#666" stroke-width="0.8"/>
<text x="1388.37" y="666.3" font-size="17.5" font-weight="bold" text-anchor="middle">9</text>
<line x1="1431.34" y1="640.82" x2="1431.34" y2="647.42" stroke="#666" stroke-width="0.8"/>
<text x="1431.34" y="666.3" font-size="17.5" font-weight="bold" text-anchor="middle">8</text>
<line x1="1474.31" y1="640.82" x2="1474.31" y2="647.42" stroke="#666" stroke-width="0.8"/>
<text x="1474.31" y="666.3" font-size="17.5" font-weight="bold" text-anchor="middle">7</text>
<line x1="1517.28" y1="640.82" x2="1517.28" y2="647.42" stroke="#666" stroke-width="0.8"/>
<text x="1517.28" y="666.3" font-size="17.5" font-weight="bold" text-anchor="middle">6</text>
<line x1="1560.24" y1="640.82" x2="1560.24" y2="647.42" stroke="#666" stroke-width="0.8"/>
<text x="1560.24" y="666.3" font-size="17.5" font-weight="bold" text-anchor="middle">5</text>
<line x1="1603.21" y1="640.82" x2="1603.21" y2="647.42" stroke="#666" stroke-width="0.8"/>
<text x="1603.21" y="666.3" font-size="17.5" font-weight="bold" text-anchor="middle">4</text>
<line x1="1646.18" y1="640.82" x2="1646.18" y2="647.42" stroke="#666" stroke-width="0.8"/>
<text x="1646.18" y="666.3" font-size="17.5" font-weight="bold" text-anchor="middle">3</text>
<line x1="1689.15" y1="640.82" x2="1689.15" y2="647.42" stroke="#666" stroke-width="0.8"/>
<text x="1689.15" y="666.3" font-size="17.5" font-weight="bold" text-anchor="middle">2</text>
<line x1="1732.12" y1="640.82" x2="1732.12" y2="647.42" stroke="#666" stroke-width="0.8"/>
<text x="1732.12" y="666.3" font-size="17.5" font-weight="bold" text-anchor="middle">1</text>
<line x1="1775.1" y1="640.82" x2="1775.1" y2="647.42" stroke="#666" stroke-width="0.8"/>
<text x="1775.1" y="666.3" font-size="17.5" font-weight="bold" text-anchor="middle">1</text>
<line x1="1818.07" y1="640.82" x2="1818.07" y2="647.42" stroke="#666" stroke-width="0.8"/>
<text x="1818.07" y="666.3" font-size="17.5" font-weight="bold" text-anchor="middle">2</text>
<line x1="1861.03" y1="640.82" x2="1861.03" y2="647.42" stroke="#666" stroke-width="0.8"/>
<text x="1861.03" y="666.3" font-size="17.5" font-weight="bold" text-anchor="middle">3</text>
<text x="1430.4" y="693.8" font-size="18.1" font-weight="bold" textLength="216" lengthAdjust="spacingAndGlyphs">Distance from position14</text>
<defs><linearGradient id="cb" x1="0" y1="0" x2="0" y2="1"><stop offset="0" stop-color="#f33f46"/><stop offset="0.15" stop-color="#f25058"/><stop offset="0.35" stop-color="#f16971"/><stop offset="0.56" stop-color="#f1888f"/><stop offset="0.7" stop-color="#f3aab2"/><stop offset="0.8" stop-color="#f5c8ce"/><stop offset="0.92" stop-color="#f7e7e9"/><stop offset="0.94" stop-color="#f8ecee"/><stop offset="0.97" stop-color="#fcf7f8"/><stop offset="1" stop-color="#ffffff"/></linearGradient></defs>
<rect x="1893.2" y="365.8" width="12" height="89.2" fill="url(#cb)" stroke="#000" stroke-width="2.1"/>
<line x1="1893.2" y1="396.9" x2="1897.8" y2="396.9" stroke="#000" stroke-width="1.9"/>
<line x1="1899.2" y1="396.9" x2="1905.2" y2="396.9" stroke="#000" stroke-width="1.9"/>
<line x1="1893.2" y1="427.8" x2="1897.8" y2="427.8" stroke="#000" stroke-width="1.9"/>
<line x1="1899.2" y1="427.8" x2="1905.2" y2="427.8" stroke="#000" stroke-width="1.9"/>
<text x="1916.3" y="373.3" font-size="19">30</text>
<text x="1916.3" y="404.4" font-size="19">20</text>
<text x="1916.3" y="435.4" font-size="19">10</text>
<text x="929.4" y="357.4" font-size="33" font-weight="bold">c</text>
</g>
<g id="panel-d">
<circle cx="1025.4" cy="735.5" r="11.1" fill="#4f75c9"/>
<circle cx="1047.4" cy="735.5" r="11.1" fill="#4f75c9"/>
<circle cx="1068.8" cy="735.5" r="11.1" fill="#4f75c9"/>
<circle cx="1090.9" cy="735.5" r="11.1" fill="#4f75c9"/>
<circle cx="1112.9" cy="735.5" r="11.1" fill="#4f75c9"/>
<circle cx="1134.2" cy="735.5" r="11.1" fill="#4f75c9"/>
<circle cx="1155.6" cy="735.5" r="11.1" fill="#4f75c9"/>
<circle cx="1177" cy="735.5" r="11.1" fill="#4f75c9"/>
<circle cx="1198.3" cy="735.5" r="11.1" fill="#4f75c9"/>
<circle cx="1219" cy="735.5" r="11.1" fill="#4f75c9"/>
<circle cx="1240" cy="735.5" r="11.1" fill="#4f75c9"/>
<circle cx="1261.3" cy="735.5" r="11.1" fill="#4f75c9"/>
<circle cx="1282.3" cy="735.5" r="11.1" fill="#4f75c9"/>
<circle cx="1303.6" cy="735.5" r="11.1" fill="#4f75c9"/>
<circle cx="1325.6" cy="735.5" r="9.7" fill="#fb1d0d" stroke="#4f75c9" stroke-width="1.35"/>
<circle cx="1346.7" cy="735.5" r="11.1" fill="#4f75c9"/>
<circle cx="1368" cy="735.5" r="11.1" fill="#4f75c9"/>
<circle cx="1390.1" cy="735.5" r="11.1" fill="#4f75c9"/>
<circle cx="1411.7" cy="735.5" r="11.1" fill="#4f75c9"/>
<circle cx="1433.1" cy="735.5" r="11.1" fill="#4f75c9"/>
<circle cx="1454.5" cy="735.5" r="11.1" fill="#4f75c9"/>
<circle cx="1475.8" cy="735.5" r="11.1" fill="#4f75c9"/>
<circle cx="1497.5" cy="735.5" r="11.1" fill="#4f75c9"/>
<circle cx="1519.2" cy="735.5" r="11.1" fill="#4f75c9"/>
<circle cx="1025.3" cy="808.4" r="11.1" fill="#4f75c9"/>
<circle cx="1047" cy="808.4" r="11.1" fill="#4f75c9"/>
<circle cx="1068.3" cy="808.4" r="11.1" fill="#4f75c9"/>
<circle cx="1089.9" cy="808.4" r="11.1" fill="#4f75c9"/>
<circle cx="1111.3" cy="808.4" r="11.1" fill="#4f75c9"/>
<circle cx="1132.7" cy="808.4" r="11.1" fill="#4f75c9"/>
<circle cx="1153.7" cy="808.4" r="11.1" fill="#4f75c9"/>
<circle cx="1174.9" cy="808.4" r="11.1" fill="#4f75c9"/>
<circle cx="1196" cy="808.4" r="11.1" fill="#4f75c9"/>
<circle cx="1216.9" cy="808.4" r="11.1" fill="#4f75c9"/>
<circle cx="1237.8" cy="808.4" r="11.1" fill="#4f75c9"/>
<circle cx="1259.5" cy="808.4" r="11.1" fill="#4f75c9"/>
<circle cx="1280.7" cy="808.4" r="11.1" fill="#4f75c9"/>
<circle cx="1302.4" cy="808.4" r="9.7" fill="#f3f83e" stroke="#4f75c9" stroke-width="1.35"/>
<circle cx="1324.7" cy="808.4" r="9.7" fill="#fb1d0d" stroke="#4f75c9" stroke-width="1.35"/>
<circle cx="1346.1" cy="808.4" r="11.1" fill="#4f75c9"/>
<circle cx="1367.5" cy="808.4" r="11.1" fill="#4f75c9"/>
<circle cx="1389.4" cy="808.4" r="11.1" fill="#4f75c9"/>
<circle cx="1410.4" cy="808.4" r="11.1" fill="#4f75c9"/>
<circle cx="1431.3" cy="808.4" r="11.1" fill="#4f75c9"/>
<circle cx="1025.3" cy="876.5" r="11.1" fill="#4f75c9"/>
<circle cx="1047" cy="876.5" r="11.1" fill="#4f75c9"/>
<circle cx="1068.3" cy="876.5" r="11.1" fill="#4f75c9"/>
<circle cx="1089.9" cy="876.5" r="11.1" fill="#4f75c9"/>
<circle cx="1111.3" cy="876.5" r="11.1" fill="#4f75c9"/>
<circle cx="1132.7" cy="876.5" r="11.1" fill="#4f75c9"/>
<circle cx="1153.7" cy="876.5" r="11.1" fill="#4f75c9"/>
<circle cx="1174.9" cy="876.5" r="11.1" fill="#4f75c9"/>
<circle cx="1196" cy="876.5" r="11.1" fill="#4f75c9"/>
<circle cx="1216.9" cy="876.5" r="11.1" fill="#4f75c9"/>
<circle cx="1237.8" cy="876.5" r="11.1" fill="#4f75c9"/>
<circle cx="1259.5" cy="876.5" r="11.1" fill="#4f75c9"/>
<circle cx="1280.7" cy="876.5" r="11.1" fill="#4f75c9"/>
<circle cx="1302.4" cy="876.5" r="9.7" fill="#f3f83e" stroke="#4f75c9" stroke-width="1.35"/>
<circle cx="1324.7" cy="876.5" r="9.7" fill="#fb1d0d" stroke="#4f75c9" stroke-width="1.35"/>
<circle cx="1346.1" cy="876.5" r="11.1" fill="#4f75c9"/>
<circle cx="1367.5" cy="876.5" r="11.1" fill="#4f75c9"/>
<circle cx="1389.4" cy="876.5" r="11.1" fill="#4f75c9"/>
<circle cx="1410.4" cy="876.5" r="11.1" fill="#4f75c9"/>
<circle cx="1431.3" cy="876.5" r="11.1" fill="#4f75c9"/>
<circle cx="1025.3" cy="947.4" r="11.1" fill="#4f75c9"/>
<circle cx="1047" cy="947.4" r="11.1" fill="#4f75c9"/>
<circle cx="1068.3" cy="947.4" r="11.1" fill="#4f75c9"/>
<circle cx="1089.9" cy="947.4" r="11.1" fill="#4f75c9"/>
<circle cx="1111.3" cy="947.4" r="11.1" fill="#4f75c9"/>
<circle cx="1132.7" cy="947.4" r="11.1" fill="#4f75c9"/>
<circle cx="1153.7" cy="947.4" r="11.1" fill="#4f75c9"/>
<circle cx="1174.9" cy="947.4" r="11.1" fill="#4f75c9"/>
<circle cx="1196" cy="947.4" r="11.1" fill="#4f75c9"/>
<circle cx="1216.9" cy="947.4" r="11.1" fill="#4f75c9"/>
<circle cx="1237.8" cy="947.4" r="11.1" fill="#4f75c9"/>
<circle cx="1259.5" cy="947.4" r="11.1" fill="#4f75c9"/>
<circle cx="1280.7" cy="947.4" r="11.1" fill="#4f75c9"/>
<circle cx="1302.4" cy="947.4" r="9.7" fill="#f3f83e" stroke="#4f75c9" stroke-width="1.35"/>
<circle cx="1324.7" cy="947.4" r="9.7" fill="#fb1d0d" stroke="#4f75c9" stroke-width="1.35"/>
<circle cx="1346.1" cy="947.4" r="11.1" fill="#4f75c9"/>
<circle cx="1367.5" cy="947.4" r="11.1" fill="#4f75c9"/>
<circle cx="1023.6" cy="1014.8" r="11.1" fill="#4f75c9"/>
<circle cx="1045.3" cy="1014.8" r="11.1" fill="#4f75c9"/>
<circle cx="1066.6" cy="1014.8" r="11.1" fill="#4f75c9"/>
<circle cx="1088.2" cy="1014.8" r="11.1" fill="#4f75c9"/>
<circle cx="1109.6" cy="1014.8" r="11.1" fill="#4f75c9"/>
<circle cx="1131" cy="1014.8" r="11.1" fill="#4f75c9"/>
<circle cx="1152" cy="1014.8" r="11.1" fill="#4f75c9"/>
<circle cx="1173.2" cy="1014.8" r="11.1" fill="#4f75c9"/>
<circle cx="1194.3" cy="1014.8" r="11.1" fill="#4f75c9"/>
<circle cx="1215.2" cy="1014.8" r="11.1" fill="#4f75c9"/>
<circle cx="1236.1" cy="1014.8" r="11.1" fill="#4f75c9"/>
<circle cx="1257.8" cy="1014.8" r="11.1" fill="#4f75c9"/>
<circle cx="1279" cy="1014.8" r="11.1" fill="#4f75c9"/>
<circle cx="1300.7" cy="1014.8" r="9.7" fill="#93dd52" stroke="#4f75c9" stroke-width="1.35"/>
<circle cx="1323" cy="1014.8" r="9.7" fill="#fb1d0d" stroke="#4f75c9" stroke-width="1.35"/>
<circle cx="1344.4" cy="1014.8" r="11.1" fill="#4f75c9"/>
<circle cx="1365.8" cy="1014.8" r="11.1" fill="#4f75c9"/>
<path d="M1242.15 749.8H1253.85V783.8H1260L1248 795.4L1236 783.8H1242.15Z" fill="#e27a37"/>
<path d="M1242.15 822.8H1253.85V856.4H1260L1248 868L1236 856.4H1242.15Z" fill="#e27a37"/>
<path d="M1242.15 891.9H1253.85V925.9H1260L1248 937.5L1236 925.9H1242.15Z" fill="#e27a37"/>
<path d="M1242.15 960.6H1253.85V994.3H1260L1248 1005.9L1236 994.3H1242.15Z" fill="#e27a37"/>
<text x="1002.3" y="854.5" font-size="23" font-weight="bold" font-style="italic" style='font-family:"Liberation Serif", "Times New Roman", serif'>5′</text>
<text x="1002.3" y="924.3" font-size="23" font-weight="bold" font-style="italic" style='font-family:"Liberation Serif", "Times New Roman", serif'>5′</text>
<text x="1000.4" y="992.4" font-size="23" font-weight="bold" font-style="italic" style='font-family:"Liberation Serif", "Times New Roman", serif'>5′</text>
<text x="1439.4" y="854" font-size="23" font-weight="bold" font-style="italic" style='font-family:"Liberation Serif", "Times New Roman", serif'>3′</text>
<text x="1381.8" y="923.8" font-size="23" font-weight="bold" font-style="italic" style='font-family:"Liberation Serif", "Times New Roman", serif'>3′</text>
<text x="1380.1" y="992" font-size="23" font-weight="bold" font-style="italic" style='font-family:"Liberation Serif", "Times New Roman", serif'>3′</text>
<text x="1790.6" y="742.8" font-size="21.3" font-weight="bold" textLength="41" lengthAdjust="spacingAndGlyphs">NTS</text>
<text x="1461.1" y="804" font-size="21.3" font-weight="bold" textLength="356" lengthAdjust="spacingAndGlyphs">A or C near the mutation position is</text>
<text x="1461.1" y="828.9" font-size="21.3" font-weight="bold" textLength="375.5" lengthAdjust="spacingAndGlyphs">defined as position 14 relative to PAM</text>
<text x="1658.6" y="891.5" font-size="21.3" font-weight="bold" textLength="187" lengthAdjust="spacingAndGlyphs">unmodified spacer</text>
<text x="1594.9" y="952.1" font-size="21.3" font-weight="bold" textLength="250" lengthAdjust="spacingAndGlyphs">truncated spacer to 17bp</text>
<text x="1444.8" y="1014.1" font-size="21.3" font-weight="bold" textLength="396" lengthAdjust="spacingAndGlyphs">incorporating of rU-dG or rG-dT wobble</text>
<text x="1444.8" y="1038.9" font-size="21.3" font-weight="bold" textLength="319" lengthAdjust="spacingAndGlyphs">base pairs at duplex 14 position</text>
<text x="932.6" y="721.5" font-size="33" font-weight="bold">d</text>
</g>
</svg></body></html>
